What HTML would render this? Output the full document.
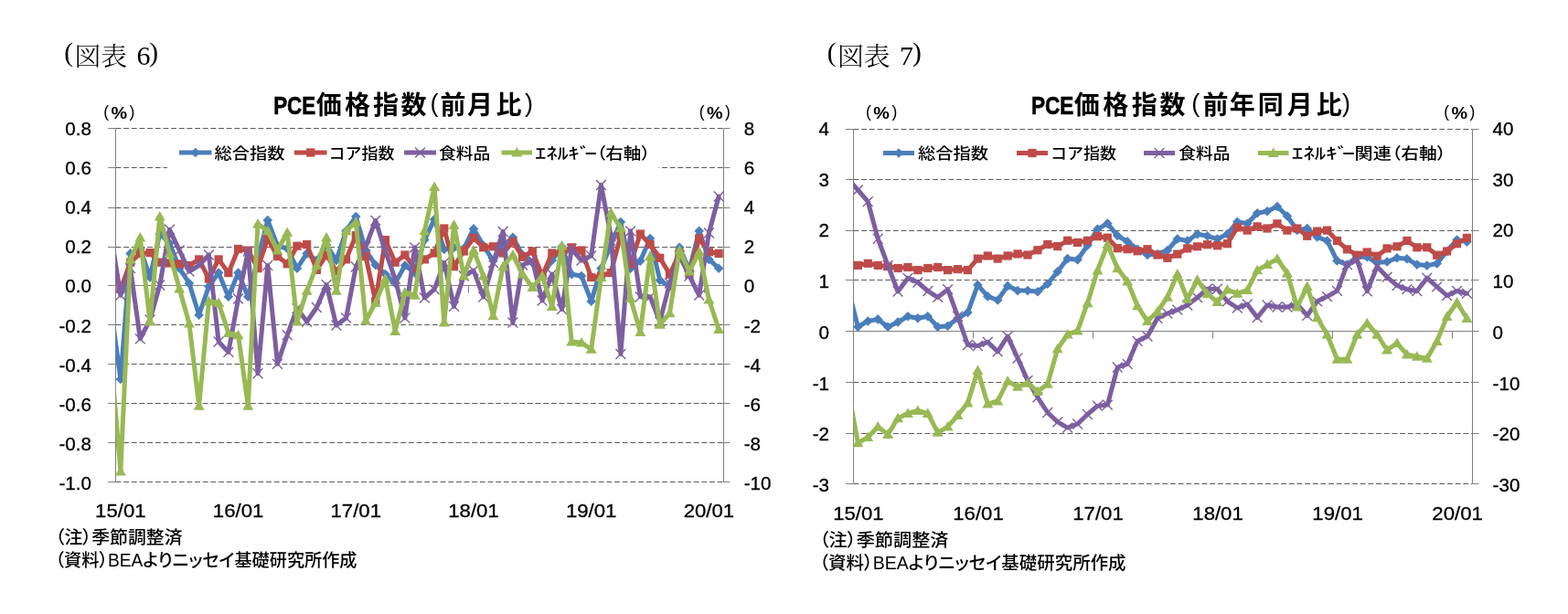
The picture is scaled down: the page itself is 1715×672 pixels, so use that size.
<!DOCTYPE html>
<html><head><meta charset="utf-8"><title>PCE価格指数</title>
<style>html,body{margin:0;padding:0;background:#fff;}svg{display:block;}</style>
</head><body>
<svg width="1715" height="672" viewBox="0 0 1715 672">
<rect width="1715" height="672" fill="#fff"/>
<text x="70.2" y="67.2" font-size="29.5" text-anchor="start" font-family="'Liberation Serif', 'Noto Serif CJK JP', serif" font-weight="normal" fill="#000">(</text>
<text x="81.5" y="72" font-size="28.5" text-anchor="start" font-family="'Noto Serif CJK JP', serif" font-weight="300" fill="#000" textLength="57.5" lengthAdjust="spacingAndGlyphs">図表</text>
<text x="149.5" y="71.4" font-size="30" text-anchor="start" font-family="'Liberation Serif', 'Noto Serif CJK JP', serif" font-weight="normal" fill="#000">6</text>
<text x="163.3" y="67.2" font-size="29.5" text-anchor="start" font-family="'Liberation Serif', 'Noto Serif CJK JP', serif" font-weight="normal" fill="#000">)</text>
<text x="904.8" y="67.2" font-size="29.5" text-anchor="start" font-family="'Liberation Serif', 'Noto Serif CJK JP', serif" font-weight="normal" fill="#000">(</text>
<text x="916.1" y="72" font-size="28.5" text-anchor="start" font-family="'Noto Serif CJK JP', serif" font-weight="300" fill="#000" textLength="57.5" lengthAdjust="spacingAndGlyphs">図表</text>
<text x="984.1" y="71.4" font-size="30" text-anchor="start" font-family="'Liberation Serif', 'Noto Serif CJK JP', serif" font-weight="normal" fill="#000">7</text>
<text x="997.9" y="67.2" font-size="29.5" text-anchor="start" font-family="'Liberation Serif', 'Noto Serif CJK JP', serif" font-weight="normal" fill="#000">)</text>
<clipPath id="c1"><rect x="126.5" y="132.5" width="665" height="403"/></clipPath>
<line x1="126.5" y1="140.5" x2="791.5" y2="140.5" stroke="#5a5a5a" stroke-width="1" stroke-dasharray="5.9 2.76"/>
<line x1="118" y1="140.5" x2="126.5" y2="140.5" stroke="#808080" stroke-width="1"/>
<line x1="791.5" y1="140.5" x2="798.5" y2="140.5" stroke="#808080" stroke-width="1"/>
<line x1="126.5" y1="183.5" x2="791.5" y2="183.5" stroke="#5a5a5a" stroke-width="1" stroke-dasharray="5.9 2.76"/>
<line x1="118" y1="183.5" x2="126.5" y2="183.5" stroke="#808080" stroke-width="1"/>
<line x1="791.5" y1="183.5" x2="798.5" y2="183.5" stroke="#808080" stroke-width="1"/>
<line x1="126.5" y1="227.5" x2="791.5" y2="227.5" stroke="#5a5a5a" stroke-width="1" stroke-dasharray="5.9 2.76"/>
<line x1="118" y1="227.5" x2="126.5" y2="227.5" stroke="#808080" stroke-width="1"/>
<line x1="791.5" y1="227.5" x2="798.5" y2="227.5" stroke="#808080" stroke-width="1"/>
<line x1="126.5" y1="270.5" x2="791.5" y2="270.5" stroke="#5a5a5a" stroke-width="1" stroke-dasharray="5.9 2.76"/>
<line x1="118" y1="270.5" x2="126.5" y2="270.5" stroke="#808080" stroke-width="1"/>
<line x1="791.5" y1="270.5" x2="798.5" y2="270.5" stroke="#808080" stroke-width="1"/>
<line x1="118" y1="312.5" x2="126.5" y2="312.5" stroke="#808080" stroke-width="1"/>
<line x1="791.5" y1="312.5" x2="798.5" y2="312.5" stroke="#808080" stroke-width="1"/>
<line x1="126.5" y1="355.5" x2="791.5" y2="355.5" stroke="#5a5a5a" stroke-width="1" stroke-dasharray="5.9 2.76"/>
<line x1="118" y1="355.5" x2="126.5" y2="355.5" stroke="#808080" stroke-width="1"/>
<line x1="791.5" y1="355.5" x2="798.5" y2="355.5" stroke="#808080" stroke-width="1"/>
<line x1="126.5" y1="398.5" x2="791.5" y2="398.5" stroke="#5a5a5a" stroke-width="1" stroke-dasharray="5.9 2.76"/>
<line x1="118" y1="398.5" x2="126.5" y2="398.5" stroke="#808080" stroke-width="1"/>
<line x1="791.5" y1="398.5" x2="798.5" y2="398.5" stroke="#808080" stroke-width="1"/>
<line x1="126.5" y1="441.5" x2="791.5" y2="441.5" stroke="#5a5a5a" stroke-width="1" stroke-dasharray="5.9 2.76"/>
<line x1="118" y1="441.5" x2="126.5" y2="441.5" stroke="#808080" stroke-width="1"/>
<line x1="791.5" y1="441.5" x2="798.5" y2="441.5" stroke="#808080" stroke-width="1"/>
<line x1="126.5" y1="484.5" x2="791.5" y2="484.5" stroke="#5a5a5a" stroke-width="1" stroke-dasharray="5.9 2.76"/>
<line x1="118" y1="484.5" x2="126.5" y2="484.5" stroke="#808080" stroke-width="1"/>
<line x1="791.5" y1="484.5" x2="798.5" y2="484.5" stroke="#808080" stroke-width="1"/>
<line x1="126.5" y1="527.5" x2="791.5" y2="527.5" stroke="#5a5a5a" stroke-width="1" stroke-dasharray="5.9 2.76"/>
<line x1="118" y1="527.5" x2="126.5" y2="527.5" stroke="#808080" stroke-width="1"/>
<line x1="791.5" y1="527.5" x2="798.5" y2="527.5" stroke="#808080" stroke-width="1"/>
<line x1="126.5" y1="312.5" x2="791.5" y2="312.5" stroke="#808080" stroke-width="1"/>
<line x1="126.5" y1="140.5" x2="126.5" y2="527.5" stroke="#808080" stroke-width="1"/>
<line x1="791.5" y1="140.5" x2="791.5" y2="527.5" stroke="#808080" stroke-width="1"/>
<line x1="255.5" y1="312.5" x2="255.5" y2="320.5" stroke="#808080" stroke-width="1"/>
<line x1="383.5" y1="312.5" x2="383.5" y2="320.5" stroke="#808080" stroke-width="1"/>
<line x1="512.5" y1="312.5" x2="512.5" y2="320.5" stroke="#808080" stroke-width="1"/>
<line x1="641.5" y1="312.5" x2="641.5" y2="320.5" stroke="#808080" stroke-width="1"/>
<line x1="770.5" y1="312.5" x2="770.5" y2="320.5" stroke="#808080" stroke-width="1"/>
<text x="100" y="147.9" font-size="20.6" text-anchor="end" font-family="'Liberation Sans', 'Noto Sans CJK JP', sans-serif" font-weight="normal" fill="#000" stroke="#000" stroke-width="0.3">0.8</text>
<text x="100" y="191.03" font-size="20.6" text-anchor="end" font-family="'Liberation Sans', 'Noto Sans CJK JP', sans-serif" font-weight="normal" fill="#000" stroke="#000" stroke-width="0.3">0.6</text>
<text x="100" y="234.17" font-size="20.6" text-anchor="end" font-family="'Liberation Sans', 'Noto Sans CJK JP', sans-serif" font-weight="normal" fill="#000" stroke="#000" stroke-width="0.3">0.4</text>
<text x="100" y="277.3" font-size="20.6" text-anchor="end" font-family="'Liberation Sans', 'Noto Sans CJK JP', sans-serif" font-weight="normal" fill="#000" stroke="#000" stroke-width="0.3">0.2</text>
<text x="100" y="320.43" font-size="20.6" text-anchor="end" font-family="'Liberation Sans', 'Noto Sans CJK JP', sans-serif" font-weight="normal" fill="#000" stroke="#000" stroke-width="0.3">0.0</text>
<text x="100" y="363.57" font-size="20.6" text-anchor="end" font-family="'Liberation Sans', 'Noto Sans CJK JP', sans-serif" font-weight="normal" fill="#000" stroke="#000" stroke-width="0.3">-0.2</text>
<text x="100" y="406.7" font-size="20.6" text-anchor="end" font-family="'Liberation Sans', 'Noto Sans CJK JP', sans-serif" font-weight="normal" fill="#000" stroke="#000" stroke-width="0.3">-0.4</text>
<text x="100" y="449.83" font-size="20.6" text-anchor="end" font-family="'Liberation Sans', 'Noto Sans CJK JP', sans-serif" font-weight="normal" fill="#000" stroke="#000" stroke-width="0.3">-0.6</text>
<text x="100" y="492.97" font-size="20.6" text-anchor="end" font-family="'Liberation Sans', 'Noto Sans CJK JP', sans-serif" font-weight="normal" fill="#000" stroke="#000" stroke-width="0.3">-0.8</text>
<text x="100" y="536.1" font-size="20.6" text-anchor="end" font-family="'Liberation Sans', 'Noto Sans CJK JP', sans-serif" font-weight="normal" fill="#000" stroke="#000" stroke-width="0.3">-1.0</text>
<text x="813.7" y="147.9" font-size="20.6" text-anchor="start" font-family="'Liberation Sans', 'Noto Sans CJK JP', sans-serif" font-weight="normal" fill="#000" stroke="#000" stroke-width="0.3">8</text>
<text x="813.7" y="191.03" font-size="20.6" text-anchor="start" font-family="'Liberation Sans', 'Noto Sans CJK JP', sans-serif" font-weight="normal" fill="#000" stroke="#000" stroke-width="0.3">6</text>
<text x="813.7" y="234.17" font-size="20.6" text-anchor="start" font-family="'Liberation Sans', 'Noto Sans CJK JP', sans-serif" font-weight="normal" fill="#000" stroke="#000" stroke-width="0.3">4</text>
<text x="813.7" y="277.3" font-size="20.6" text-anchor="start" font-family="'Liberation Sans', 'Noto Sans CJK JP', sans-serif" font-weight="normal" fill="#000" stroke="#000" stroke-width="0.3">2</text>
<text x="813.7" y="320.43" font-size="20.6" text-anchor="start" font-family="'Liberation Sans', 'Noto Sans CJK JP', sans-serif" font-weight="normal" fill="#000" stroke="#000" stroke-width="0.3">0</text>
<text x="813.7" y="363.57" font-size="20.6" text-anchor="start" font-family="'Liberation Sans', 'Noto Sans CJK JP', sans-serif" font-weight="normal" fill="#000" stroke="#000" stroke-width="0.3">-2</text>
<text x="813.7" y="406.7" font-size="20.6" text-anchor="start" font-family="'Liberation Sans', 'Noto Sans CJK JP', sans-serif" font-weight="normal" fill="#000" stroke="#000" stroke-width="0.3">-4</text>
<text x="813.7" y="449.83" font-size="20.6" text-anchor="start" font-family="'Liberation Sans', 'Noto Sans CJK JP', sans-serif" font-weight="normal" fill="#000" stroke="#000" stroke-width="0.3">-6</text>
<text x="813.7" y="492.97" font-size="20.6" text-anchor="start" font-family="'Liberation Sans', 'Noto Sans CJK JP', sans-serif" font-weight="normal" fill="#000" stroke="#000" stroke-width="0.3">-8</text>
<text x="813.7" y="536.1" font-size="20.6" text-anchor="start" font-family="'Liberation Sans', 'Noto Sans CJK JP', sans-serif" font-weight="normal" fill="#000" stroke="#000" stroke-width="0.3">-10</text>
<text x="131.86" y="566" font-size="20.8" text-anchor="middle" font-family="'Liberation Sans', 'Noto Sans CJK JP', sans-serif" font-weight="normal" fill="#000" textLength="55.5" lengthAdjust="spacingAndGlyphs" stroke="#000" stroke-width="0.3">15/01</text>
<text x="260.57" y="566" font-size="20.8" text-anchor="middle" font-family="'Liberation Sans', 'Noto Sans CJK JP', sans-serif" font-weight="normal" fill="#000" textLength="55.5" lengthAdjust="spacingAndGlyphs" stroke="#000" stroke-width="0.3">16/01</text>
<text x="389.28" y="566" font-size="20.8" text-anchor="middle" font-family="'Liberation Sans', 'Noto Sans CJK JP', sans-serif" font-weight="normal" fill="#000" textLength="55.5" lengthAdjust="spacingAndGlyphs" stroke="#000" stroke-width="0.3">17/01</text>
<text x="517.99" y="566" font-size="20.8" text-anchor="middle" font-family="'Liberation Sans', 'Noto Sans CJK JP', sans-serif" font-weight="normal" fill="#000" textLength="55.5" lengthAdjust="spacingAndGlyphs" stroke="#000" stroke-width="0.3">18/01</text>
<text x="646.7" y="566" font-size="20.8" text-anchor="middle" font-family="'Liberation Sans', 'Noto Sans CJK JP', sans-serif" font-weight="normal" fill="#000" textLength="55.5" lengthAdjust="spacingAndGlyphs" stroke="#000" stroke-width="0.3">19/01</text>
<text x="775.41" y="566" font-size="20.8" text-anchor="middle" font-family="'Liberation Sans', 'Noto Sans CJK JP', sans-serif" font-weight="normal" fill="#000" textLength="55.5" lengthAdjust="spacingAndGlyphs" stroke="#000" stroke-width="0.3">20/01</text>
<g clip-path="url(#c1)">
<polyline points="121.14,335 131.86,415 142.59,277.4 153.31,272 164.04,303.6 174.77,256 185.49,266 196.22,293.7 206.94,310 217.67,344.8 228.4,313.4 239.12,298.6 249.85,324.8 260.57,298.6 271.3,324.8 282.02,283 292.75,241 303.48,269 314.2,272 324.93,293.7 335.65,277.4 346.38,285 357.1,268 367.83,285 378.56,252.8 389.28,237 400.01,274 410.73,290 421.46,300 432.19,310 442.91,290.5 453.64,298.6 464.36,262.6 475.09,240 485.81,273 496.54,271 507.27,272 517.99,250.4 528.72,268.75 539.44,285.4 550.17,268.75 560.9,259.8 571.62,279 582.35,287.5 593.07,302 603.8,285 614.52,270 625.25,300.3 635.98,302 646.7,329.7 657.43,293.7 668.15,268 678.88,243 689.6,293.7 700.33,285.6 711.06,261 721.78,306.8 732.51,313.4 743.23,270.8 753.96,295.4 764.69,252.8 775.41,283.9 786.14,293.7" fill="none" stroke="#4a7ebb" stroke-width="5" stroke-linejoin="round" stroke-linecap="round"/>
<path d="M131.86 409.7L137.16 415L131.86 420.3L126.56 415Z" fill="#4a7ebb"/>
<path d="M142.59 272.1L147.89 277.4L142.59 282.7L137.29 277.4Z" fill="#4a7ebb"/>
<path d="M153.31 266.7L158.61 272L153.31 277.3L148.01 272Z" fill="#4a7ebb"/>
<path d="M164.04 298.3L169.34 303.6L164.04 308.9L158.74 303.6Z" fill="#4a7ebb"/>
<path d="M174.77 250.7L180.07 256L174.77 261.3L169.47 256Z" fill="#4a7ebb"/>
<path d="M185.49 260.7L190.79 266L185.49 271.3L180.19 266Z" fill="#4a7ebb"/>
<path d="M196.22 288.4L201.52 293.7L196.22 299L190.92 293.7Z" fill="#4a7ebb"/>
<path d="M206.94 304.7L212.24 310L206.94 315.3L201.64 310Z" fill="#4a7ebb"/>
<path d="M217.67 339.5L222.97 344.8L217.67 350.1L212.37 344.8Z" fill="#4a7ebb"/>
<path d="M228.4 308.1L233.7 313.4L228.4 318.7L223.1 313.4Z" fill="#4a7ebb"/>
<path d="M239.12 293.3L244.42 298.6L239.12 303.9L233.82 298.6Z" fill="#4a7ebb"/>
<path d="M249.85 319.5L255.15 324.8L249.85 330.1L244.55 324.8Z" fill="#4a7ebb"/>
<path d="M260.57 293.3L265.87 298.6L260.57 303.9L255.27 298.6Z" fill="#4a7ebb"/>
<path d="M271.3 319.5L276.6 324.8L271.3 330.1L266 324.8Z" fill="#4a7ebb"/>
<path d="M282.02 277.7L287.32 283L282.02 288.3L276.72 283Z" fill="#4a7ebb"/>
<path d="M292.75 235.7L298.05 241L292.75 246.3L287.45 241Z" fill="#4a7ebb"/>
<path d="M303.48 263.7L308.78 269L303.48 274.3L298.18 269Z" fill="#4a7ebb"/>
<path d="M314.2 266.7L319.5 272L314.2 277.3L308.9 272Z" fill="#4a7ebb"/>
<path d="M324.93 288.4L330.23 293.7L324.93 299L319.63 293.7Z" fill="#4a7ebb"/>
<path d="M335.65 272.1L340.95 277.4L335.65 282.7L330.35 277.4Z" fill="#4a7ebb"/>
<path d="M346.38 279.7L351.68 285L346.38 290.3L341.08 285Z" fill="#4a7ebb"/>
<path d="M357.1 262.7L362.4 268L357.1 273.3L351.8 268Z" fill="#4a7ebb"/>
<path d="M367.83 279.7L373.13 285L367.83 290.3L362.53 285Z" fill="#4a7ebb"/>
<path d="M378.56 247.5L383.86 252.8L378.56 258.1L373.26 252.8Z" fill="#4a7ebb"/>
<path d="M389.28 231.7L394.58 237L389.28 242.3L383.98 237Z" fill="#4a7ebb"/>
<path d="M400.01 268.7L405.31 274L400.01 279.3L394.71 274Z" fill="#4a7ebb"/>
<path d="M410.73 284.7L416.03 290L410.73 295.3L405.43 290Z" fill="#4a7ebb"/>
<path d="M421.46 294.7L426.76 300L421.46 305.3L416.16 300Z" fill="#4a7ebb"/>
<path d="M432.19 304.7L437.49 310L432.19 315.3L426.89 310Z" fill="#4a7ebb"/>
<path d="M442.91 285.2L448.21 290.5L442.91 295.8L437.61 290.5Z" fill="#4a7ebb"/>
<path d="M453.64 293.3L458.94 298.6L453.64 303.9L448.34 298.6Z" fill="#4a7ebb"/>
<path d="M464.36 257.3L469.66 262.6L464.36 267.9L459.06 262.6Z" fill="#4a7ebb"/>
<path d="M475.09 234.7L480.39 240L475.09 245.3L469.79 240Z" fill="#4a7ebb"/>
<path d="M485.81 267.7L491.11 273L485.81 278.3L480.51 273Z" fill="#4a7ebb"/>
<path d="M496.54 265.7L501.84 271L496.54 276.3L491.24 271Z" fill="#4a7ebb"/>
<path d="M507.27 266.7L512.57 272L507.27 277.3L501.97 272Z" fill="#4a7ebb"/>
<path d="M517.99 245.1L523.29 250.4L517.99 255.7L512.69 250.4Z" fill="#4a7ebb"/>
<path d="M528.72 263.45L534.02 268.75L528.72 274.05L523.42 268.75Z" fill="#4a7ebb"/>
<path d="M539.44 280.1L544.74 285.4L539.44 290.7L534.14 285.4Z" fill="#4a7ebb"/>
<path d="M550.17 263.45L555.47 268.75L550.17 274.05L544.87 268.75Z" fill="#4a7ebb"/>
<path d="M560.9 254.5L566.2 259.8L560.9 265.1L555.6 259.8Z" fill="#4a7ebb"/>
<path d="M571.62 273.7L576.92 279L571.62 284.3L566.32 279Z" fill="#4a7ebb"/>
<path d="M582.35 282.2L587.65 287.5L582.35 292.8L577.05 287.5Z" fill="#4a7ebb"/>
<path d="M593.07 296.7L598.37 302L593.07 307.3L587.77 302Z" fill="#4a7ebb"/>
<path d="M603.8 279.7L609.1 285L603.8 290.3L598.5 285Z" fill="#4a7ebb"/>
<path d="M614.52 264.7L619.82 270L614.52 275.3L609.22 270Z" fill="#4a7ebb"/>
<path d="M625.25 295L630.55 300.3L625.25 305.6L619.95 300.3Z" fill="#4a7ebb"/>
<path d="M635.98 296.7L641.28 302L635.98 307.3L630.68 302Z" fill="#4a7ebb"/>
<path d="M646.7 324.4L652 329.7L646.7 335L641.4 329.7Z" fill="#4a7ebb"/>
<path d="M657.43 288.4L662.73 293.7L657.43 299L652.13 293.7Z" fill="#4a7ebb"/>
<path d="M668.15 262.7L673.45 268L668.15 273.3L662.85 268Z" fill="#4a7ebb"/>
<path d="M678.88 237.7L684.18 243L678.88 248.3L673.58 243Z" fill="#4a7ebb"/>
<path d="M689.6 288.4L694.9 293.7L689.6 299L684.3 293.7Z" fill="#4a7ebb"/>
<path d="M700.33 280.3L705.63 285.6L700.33 290.9L695.03 285.6Z" fill="#4a7ebb"/>
<path d="M711.06 255.7L716.36 261L711.06 266.3L705.76 261Z" fill="#4a7ebb"/>
<path d="M721.78 301.5L727.08 306.8L721.78 312.1L716.48 306.8Z" fill="#4a7ebb"/>
<path d="M732.51 308.1L737.81 313.4L732.51 318.7L727.21 313.4Z" fill="#4a7ebb"/>
<path d="M743.23 265.5L748.53 270.8L743.23 276.1L737.93 270.8Z" fill="#4a7ebb"/>
<path d="M753.96 290.1L759.26 295.4L753.96 300.7L748.66 295.4Z" fill="#4a7ebb"/>
<path d="M764.69 247.5L769.99 252.8L764.69 258.1L759.39 252.8Z" fill="#4a7ebb"/>
<path d="M775.41 278.6L780.71 283.9L775.41 289.2L770.11 283.9Z" fill="#4a7ebb"/>
<path d="M786.14 288.4L791.44 293.7L786.14 299L780.84 293.7Z" fill="#4a7ebb"/>
</g>
<g clip-path="url(#c1)">
<polyline points="121.14,290 131.86,316.6 142.59,287.2 153.31,277.4 164.04,276.6 174.77,287.2 185.49,288 196.22,288.8 206.94,290.5 217.67,283.9 228.4,305.2 239.12,283.9 249.85,298.6 260.57,272.5 271.3,274.1 282.02,293.7 292.75,261 303.48,280.6 314.2,288.8 324.93,269.2 335.65,267.6 346.38,295.4 357.1,279 367.83,297 378.56,283.9 389.28,257.7 400.01,280.6 410.73,329.7 421.46,262.6 432.19,287.2 442.91,279 453.64,293.7 464.36,283.9 475.09,277 485.81,250 496.54,291.7 507.27,275 517.99,260.4 528.72,270.8 539.44,269.8 550.17,277 560.9,264.6 571.62,281.25 582.35,275 593.07,302 603.8,277 614.52,277 625.25,270.8 635.98,274 646.7,303.6 657.43,302 668.15,298.6 678.88,257.7 689.6,288.8 700.33,256 711.06,267.6 721.78,282.3 732.51,300.3 743.23,277 753.96,300.3 764.69,261 775.41,275.7 786.14,277.4" fill="none" stroke="#be4b48" stroke-width="5" stroke-linejoin="round" stroke-linecap="round"/>
<rect x="127.26" y="312" width="9.2" height="9.2" fill="#be4b48"/>
<rect x="137.99" y="282.6" width="9.2" height="9.2" fill="#be4b48"/>
<rect x="148.71" y="272.8" width="9.2" height="9.2" fill="#be4b48"/>
<rect x="159.44" y="272" width="9.2" height="9.2" fill="#be4b48"/>
<rect x="170.17" y="282.6" width="9.2" height="9.2" fill="#be4b48"/>
<rect x="180.89" y="283.4" width="9.2" height="9.2" fill="#be4b48"/>
<rect x="191.62" y="284.2" width="9.2" height="9.2" fill="#be4b48"/>
<rect x="202.34" y="285.9" width="9.2" height="9.2" fill="#be4b48"/>
<rect x="213.07" y="279.3" width="9.2" height="9.2" fill="#be4b48"/>
<rect x="223.8" y="300.6" width="9.2" height="9.2" fill="#be4b48"/>
<rect x="234.52" y="279.3" width="9.2" height="9.2" fill="#be4b48"/>
<rect x="245.25" y="294" width="9.2" height="9.2" fill="#be4b48"/>
<rect x="255.97" y="267.9" width="9.2" height="9.2" fill="#be4b48"/>
<rect x="266.7" y="269.5" width="9.2" height="9.2" fill="#be4b48"/>
<rect x="277.42" y="289.1" width="9.2" height="9.2" fill="#be4b48"/>
<rect x="288.15" y="256.4" width="9.2" height="9.2" fill="#be4b48"/>
<rect x="298.88" y="276" width="9.2" height="9.2" fill="#be4b48"/>
<rect x="309.6" y="284.2" width="9.2" height="9.2" fill="#be4b48"/>
<rect x="320.33" y="264.6" width="9.2" height="9.2" fill="#be4b48"/>
<rect x="331.05" y="263" width="9.2" height="9.2" fill="#be4b48"/>
<rect x="341.78" y="290.8" width="9.2" height="9.2" fill="#be4b48"/>
<rect x="352.5" y="274.4" width="9.2" height="9.2" fill="#be4b48"/>
<rect x="363.23" y="292.4" width="9.2" height="9.2" fill="#be4b48"/>
<rect x="373.96" y="279.3" width="9.2" height="9.2" fill="#be4b48"/>
<rect x="384.68" y="253.1" width="9.2" height="9.2" fill="#be4b48"/>
<rect x="395.41" y="276" width="9.2" height="9.2" fill="#be4b48"/>
<rect x="406.13" y="325.1" width="9.2" height="9.2" fill="#be4b48"/>
<rect x="416.86" y="258" width="9.2" height="9.2" fill="#be4b48"/>
<rect x="427.59" y="282.6" width="9.2" height="9.2" fill="#be4b48"/>
<rect x="438.31" y="274.4" width="9.2" height="9.2" fill="#be4b48"/>
<rect x="449.04" y="289.1" width="9.2" height="9.2" fill="#be4b48"/>
<rect x="459.76" y="279.3" width="9.2" height="9.2" fill="#be4b48"/>
<rect x="470.49" y="272.4" width="9.2" height="9.2" fill="#be4b48"/>
<rect x="481.21" y="245.4" width="9.2" height="9.2" fill="#be4b48"/>
<rect x="491.94" y="287.1" width="9.2" height="9.2" fill="#be4b48"/>
<rect x="502.67" y="270.4" width="9.2" height="9.2" fill="#be4b48"/>
<rect x="513.39" y="255.8" width="9.2" height="9.2" fill="#be4b48"/>
<rect x="524.12" y="266.2" width="9.2" height="9.2" fill="#be4b48"/>
<rect x="534.84" y="265.2" width="9.2" height="9.2" fill="#be4b48"/>
<rect x="545.57" y="272.4" width="9.2" height="9.2" fill="#be4b48"/>
<rect x="556.3" y="260" width="9.2" height="9.2" fill="#be4b48"/>
<rect x="567.02" y="276.65" width="9.2" height="9.2" fill="#be4b48"/>
<rect x="577.75" y="270.4" width="9.2" height="9.2" fill="#be4b48"/>
<rect x="588.47" y="297.4" width="9.2" height="9.2" fill="#be4b48"/>
<rect x="599.2" y="272.4" width="9.2" height="9.2" fill="#be4b48"/>
<rect x="609.92" y="272.4" width="9.2" height="9.2" fill="#be4b48"/>
<rect x="620.65" y="266.2" width="9.2" height="9.2" fill="#be4b48"/>
<rect x="631.38" y="269.4" width="9.2" height="9.2" fill="#be4b48"/>
<rect x="642.1" y="299" width="9.2" height="9.2" fill="#be4b48"/>
<rect x="652.83" y="297.4" width="9.2" height="9.2" fill="#be4b48"/>
<rect x="663.55" y="294" width="9.2" height="9.2" fill="#be4b48"/>
<rect x="674.28" y="253.1" width="9.2" height="9.2" fill="#be4b48"/>
<rect x="685" y="284.2" width="9.2" height="9.2" fill="#be4b48"/>
<rect x="695.73" y="251.4" width="9.2" height="9.2" fill="#be4b48"/>
<rect x="706.46" y="263" width="9.2" height="9.2" fill="#be4b48"/>
<rect x="717.18" y="277.7" width="9.2" height="9.2" fill="#be4b48"/>
<rect x="727.91" y="295.7" width="9.2" height="9.2" fill="#be4b48"/>
<rect x="738.63" y="272.4" width="9.2" height="9.2" fill="#be4b48"/>
<rect x="749.36" y="295.7" width="9.2" height="9.2" fill="#be4b48"/>
<rect x="760.09" y="256.4" width="9.2" height="9.2" fill="#be4b48"/>
<rect x="770.81" y="271.1" width="9.2" height="9.2" fill="#be4b48"/>
<rect x="781.54" y="272.8" width="9.2" height="9.2" fill="#be4b48"/>
</g>
<g clip-path="url(#c1)">
<polyline points="121.14,255 131.86,323.2 142.59,293.7 153.31,370.8 164.04,350 174.77,312 185.49,251.2 196.22,274 206.94,297 217.67,290.5 228.4,279 239.12,374 249.85,385.4 260.57,327 271.3,275 282.02,408.75 292.75,290.5 303.48,398.3 314.2,366.7 324.93,337.5 335.65,352 346.38,336.5 357.1,311.7 367.83,356 378.56,348 389.28,292 400.01,270 410.73,241.4 421.46,275 432.19,305 442.91,348 453.64,270.8 464.36,326 475.09,316.7 485.81,287.5 496.54,335.4 507.27,302 517.99,296 528.72,325 539.44,287.5 550.17,253.5 560.9,353 571.62,290 582.35,285 593.07,329 603.8,300 614.52,338.5 625.25,272.5 635.98,285 646.7,280 657.43,202.5 668.15,258 678.88,387.5 689.6,252.8 700.33,324.8 711.06,324.8 721.78,352 732.51,310 743.23,280 753.96,302 764.69,323.2 775.41,255 786.14,215" fill="none" stroke="#7d5fa0" stroke-width="5" stroke-linejoin="round" stroke-linecap="round"/>
<path d="M126.46 317.8L137.26 328.6M126.46 328.6L137.26 317.8" stroke="#7d5fa0" stroke-width="1.4" fill="none"/>
<path d="M137.19 288.3L147.99 299.1M137.19 299.1L147.99 288.3" stroke="#7d5fa0" stroke-width="1.4" fill="none"/>
<path d="M147.91 365.4L158.71 376.2M147.91 376.2L158.71 365.4" stroke="#7d5fa0" stroke-width="1.4" fill="none"/>
<path d="M158.64 344.6L169.44 355.4M158.64 355.4L169.44 344.6" stroke="#7d5fa0" stroke-width="1.4" fill="none"/>
<path d="M169.37 306.6L180.17 317.4M169.37 317.4L180.17 306.6" stroke="#7d5fa0" stroke-width="1.4" fill="none"/>
<path d="M180.09 245.8L190.89 256.6M180.09 256.6L190.89 245.8" stroke="#7d5fa0" stroke-width="1.4" fill="none"/>
<path d="M190.82 268.6L201.62 279.4M190.82 279.4L201.62 268.6" stroke="#7d5fa0" stroke-width="1.4" fill="none"/>
<path d="M201.54 291.6L212.34 302.4M201.54 302.4L212.34 291.6" stroke="#7d5fa0" stroke-width="1.4" fill="none"/>
<path d="M212.27 285.1L223.07 295.9M212.27 295.9L223.07 285.1" stroke="#7d5fa0" stroke-width="1.4" fill="none"/>
<path d="M223 273.6L233.8 284.4M223 284.4L233.8 273.6" stroke="#7d5fa0" stroke-width="1.4" fill="none"/>
<path d="M233.72 368.6L244.52 379.4M233.72 379.4L244.52 368.6" stroke="#7d5fa0" stroke-width="1.4" fill="none"/>
<path d="M244.45 380L255.25 390.8M244.45 390.8L255.25 380" stroke="#7d5fa0" stroke-width="1.4" fill="none"/>
<path d="M255.17 321.6L265.97 332.4M255.17 332.4L265.97 321.6" stroke="#7d5fa0" stroke-width="1.4" fill="none"/>
<path d="M265.9 269.6L276.7 280.4M265.9 280.4L276.7 269.6" stroke="#7d5fa0" stroke-width="1.4" fill="none"/>
<path d="M276.62 403.35L287.42 414.15M276.62 414.15L287.42 403.35" stroke="#7d5fa0" stroke-width="1.4" fill="none"/>
<path d="M287.35 285.1L298.15 295.9M287.35 295.9L298.15 285.1" stroke="#7d5fa0" stroke-width="1.4" fill="none"/>
<path d="M298.08 392.9L308.88 403.7M298.08 403.7L308.88 392.9" stroke="#7d5fa0" stroke-width="1.4" fill="none"/>
<path d="M308.8 361.3L319.6 372.1M308.8 372.1L319.6 361.3" stroke="#7d5fa0" stroke-width="1.4" fill="none"/>
<path d="M319.53 332.1L330.33 342.9M319.53 342.9L330.33 332.1" stroke="#7d5fa0" stroke-width="1.4" fill="none"/>
<path d="M330.25 346.6L341.05 357.4M330.25 357.4L341.05 346.6" stroke="#7d5fa0" stroke-width="1.4" fill="none"/>
<path d="M340.98 331.1L351.78 341.9M340.98 341.9L351.78 331.1" stroke="#7d5fa0" stroke-width="1.4" fill="none"/>
<path d="M351.7 306.3L362.5 317.1M351.7 317.1L362.5 306.3" stroke="#7d5fa0" stroke-width="1.4" fill="none"/>
<path d="M362.43 350.6L373.23 361.4M362.43 361.4L373.23 350.6" stroke="#7d5fa0" stroke-width="1.4" fill="none"/>
<path d="M373.16 342.6L383.96 353.4M373.16 353.4L383.96 342.6" stroke="#7d5fa0" stroke-width="1.4" fill="none"/>
<path d="M383.88 286.6L394.68 297.4M383.88 297.4L394.68 286.6" stroke="#7d5fa0" stroke-width="1.4" fill="none"/>
<path d="M394.61 264.6L405.41 275.4M394.61 275.4L405.41 264.6" stroke="#7d5fa0" stroke-width="1.4" fill="none"/>
<path d="M405.33 236L416.13 246.8M405.33 246.8L416.13 236" stroke="#7d5fa0" stroke-width="1.4" fill="none"/>
<path d="M416.06 269.6L426.86 280.4M416.06 280.4L426.86 269.6" stroke="#7d5fa0" stroke-width="1.4" fill="none"/>
<path d="M426.79 299.6L437.59 310.4M426.79 310.4L437.59 299.6" stroke="#7d5fa0" stroke-width="1.4" fill="none"/>
<path d="M437.51 342.6L448.31 353.4M437.51 353.4L448.31 342.6" stroke="#7d5fa0" stroke-width="1.4" fill="none"/>
<path d="M448.24 265.4L459.04 276.2M448.24 276.2L459.04 265.4" stroke="#7d5fa0" stroke-width="1.4" fill="none"/>
<path d="M458.96 320.6L469.76 331.4M458.96 331.4L469.76 320.6" stroke="#7d5fa0" stroke-width="1.4" fill="none"/>
<path d="M469.69 311.3L480.49 322.1M469.69 322.1L480.49 311.3" stroke="#7d5fa0" stroke-width="1.4" fill="none"/>
<path d="M480.41 282.1L491.21 292.9M480.41 292.9L491.21 282.1" stroke="#7d5fa0" stroke-width="1.4" fill="none"/>
<path d="M491.14 330L501.94 340.8M491.14 340.8L501.94 330" stroke="#7d5fa0" stroke-width="1.4" fill="none"/>
<path d="M501.87 296.6L512.67 307.4M501.87 307.4L512.67 296.6" stroke="#7d5fa0" stroke-width="1.4" fill="none"/>
<path d="M512.59 290.6L523.39 301.4M512.59 301.4L523.39 290.6" stroke="#7d5fa0" stroke-width="1.4" fill="none"/>
<path d="M523.32 319.6L534.12 330.4M523.32 330.4L534.12 319.6" stroke="#7d5fa0" stroke-width="1.4" fill="none"/>
<path d="M534.04 282.1L544.84 292.9M534.04 292.9L544.84 282.1" stroke="#7d5fa0" stroke-width="1.4" fill="none"/>
<path d="M544.77 248.1L555.57 258.9M544.77 258.9L555.57 248.1" stroke="#7d5fa0" stroke-width="1.4" fill="none"/>
<path d="M555.5 347.6L566.3 358.4M555.5 358.4L566.3 347.6" stroke="#7d5fa0" stroke-width="1.4" fill="none"/>
<path d="M566.22 284.6L577.02 295.4M566.22 295.4L577.02 284.6" stroke="#7d5fa0" stroke-width="1.4" fill="none"/>
<path d="M576.95 279.6L587.75 290.4M576.95 290.4L587.75 279.6" stroke="#7d5fa0" stroke-width="1.4" fill="none"/>
<path d="M587.67 323.6L598.47 334.4M587.67 334.4L598.47 323.6" stroke="#7d5fa0" stroke-width="1.4" fill="none"/>
<path d="M598.4 294.6L609.2 305.4M598.4 305.4L609.2 294.6" stroke="#7d5fa0" stroke-width="1.4" fill="none"/>
<path d="M609.12 333.1L619.92 343.9M609.12 343.9L619.92 333.1" stroke="#7d5fa0" stroke-width="1.4" fill="none"/>
<path d="M619.85 267.1L630.65 277.9M619.85 277.9L630.65 267.1" stroke="#7d5fa0" stroke-width="1.4" fill="none"/>
<path d="M630.58 279.6L641.38 290.4M630.58 290.4L641.38 279.6" stroke="#7d5fa0" stroke-width="1.4" fill="none"/>
<path d="M641.3 274.6L652.1 285.4M641.3 285.4L652.1 274.6" stroke="#7d5fa0" stroke-width="1.4" fill="none"/>
<path d="M652.03 197.1L662.83 207.9M652.03 207.9L662.83 197.1" stroke="#7d5fa0" stroke-width="1.4" fill="none"/>
<path d="M662.75 252.6L673.55 263.4M662.75 263.4L673.55 252.6" stroke="#7d5fa0" stroke-width="1.4" fill="none"/>
<path d="M673.48 382.1L684.28 392.9M673.48 392.9L684.28 382.1" stroke="#7d5fa0" stroke-width="1.4" fill="none"/>
<path d="M684.2 247.4L695 258.2M684.2 258.2L695 247.4" stroke="#7d5fa0" stroke-width="1.4" fill="none"/>
<path d="M694.93 319.4L705.73 330.2M694.93 330.2L705.73 319.4" stroke="#7d5fa0" stroke-width="1.4" fill="none"/>
<path d="M705.66 319.4L716.46 330.2M705.66 330.2L716.46 319.4" stroke="#7d5fa0" stroke-width="1.4" fill="none"/>
<path d="M716.38 346.6L727.18 357.4M716.38 357.4L727.18 346.6" stroke="#7d5fa0" stroke-width="1.4" fill="none"/>
<path d="M727.11 304.6L737.91 315.4M727.11 315.4L737.91 304.6" stroke="#7d5fa0" stroke-width="1.4" fill="none"/>
<path d="M737.83 274.6L748.63 285.4M737.83 285.4L748.63 274.6" stroke="#7d5fa0" stroke-width="1.4" fill="none"/>
<path d="M748.56 296.6L759.36 307.4M748.56 307.4L759.36 296.6" stroke="#7d5fa0" stroke-width="1.4" fill="none"/>
<path d="M759.29 317.8L770.09 328.6M759.29 328.6L770.09 317.8" stroke="#7d5fa0" stroke-width="1.4" fill="none"/>
<path d="M770.01 249.6L780.81 260.4M770.01 260.4L780.81 249.6" stroke="#7d5fa0" stroke-width="1.4" fill="none"/>
<path d="M780.74 209.6L791.54 220.4M780.74 220.4L791.54 209.6" stroke="#7d5fa0" stroke-width="1.4" fill="none"/>
</g>
<g clip-path="url(#c1)">
<polyline points="121.14,388 131.86,516 142.59,284 153.31,260 164.04,352 174.77,237 185.49,277.4 196.22,316 206.94,354 217.67,444.2 228.4,329.7 239.12,331.4 249.85,364.6 260.57,366.7 271.3,444.2 282.02,245 292.75,252.8 303.48,274 314.2,254.5 324.93,352 335.65,318.3 346.38,290.5 357.1,260 367.83,318.3 378.56,252.8 389.28,243 400.01,351 410.73,331.4 421.46,305.2 432.19,362.5 442.91,320 453.64,323.2 464.36,252.8 475.09,204.6 485.81,353 496.54,246.25 507.27,302 517.99,274 528.72,302 539.44,345.8 550.17,291.7 560.9,279 571.62,300 582.35,314.6 593.07,302 603.8,335.4 614.52,269 625.25,374 635.98,375 646.7,382.3 657.43,303.6 668.15,233 678.88,249.5 689.6,326.5 700.33,363.5 711.06,280.6 721.78,355.2 732.51,342.7 743.23,274 753.96,297 764.69,275.7 775.41,328 786.14,360.4" fill="none" stroke="#98b954" stroke-width="5" stroke-linejoin="round" stroke-linecap="round"/>
<path d="M131.86 510L137.86 520.5L125.86 520.5Z" fill="#98b954"/>
<path d="M142.59 278L148.59 288.5L136.59 288.5Z" fill="#98b954"/>
<path d="M153.31 254L159.31 264.5L147.31 264.5Z" fill="#98b954"/>
<path d="M164.04 346L170.04 356.5L158.04 356.5Z" fill="#98b954"/>
<path d="M174.77 231L180.77 241.5L168.77 241.5Z" fill="#98b954"/>
<path d="M185.49 271.4L191.49 281.9L179.49 281.9Z" fill="#98b954"/>
<path d="M196.22 310L202.22 320.5L190.22 320.5Z" fill="#98b954"/>
<path d="M206.94 348L212.94 358.5L200.94 358.5Z" fill="#98b954"/>
<path d="M217.67 438.2L223.67 448.7L211.67 448.7Z" fill="#98b954"/>
<path d="M228.4 323.7L234.4 334.2L222.4 334.2Z" fill="#98b954"/>
<path d="M239.12 325.4L245.12 335.9L233.12 335.9Z" fill="#98b954"/>
<path d="M249.85 358.6L255.85 369.1L243.85 369.1Z" fill="#98b954"/>
<path d="M260.57 360.7L266.57 371.2L254.57 371.2Z" fill="#98b954"/>
<path d="M271.3 438.2L277.3 448.7L265.3 448.7Z" fill="#98b954"/>
<path d="M282.02 239L288.02 249.5L276.02 249.5Z" fill="#98b954"/>
<path d="M292.75 246.8L298.75 257.3L286.75 257.3Z" fill="#98b954"/>
<path d="M303.48 268L309.48 278.5L297.48 278.5Z" fill="#98b954"/>
<path d="M314.2 248.5L320.2 259L308.2 259Z" fill="#98b954"/>
<path d="M324.93 346L330.93 356.5L318.93 356.5Z" fill="#98b954"/>
<path d="M335.65 312.3L341.65 322.8L329.65 322.8Z" fill="#98b954"/>
<path d="M346.38 284.5L352.38 295L340.38 295Z" fill="#98b954"/>
<path d="M357.1 254L363.1 264.5L351.1 264.5Z" fill="#98b954"/>
<path d="M367.83 312.3L373.83 322.8L361.83 322.8Z" fill="#98b954"/>
<path d="M378.56 246.8L384.56 257.3L372.56 257.3Z" fill="#98b954"/>
<path d="M389.28 237L395.28 247.5L383.28 247.5Z" fill="#98b954"/>
<path d="M400.01 345L406.01 355.5L394.01 355.5Z" fill="#98b954"/>
<path d="M410.73 325.4L416.73 335.9L404.73 335.9Z" fill="#98b954"/>
<path d="M421.46 299.2L427.46 309.7L415.46 309.7Z" fill="#98b954"/>
<path d="M432.19 356.5L438.19 367L426.19 367Z" fill="#98b954"/>
<path d="M442.91 314L448.91 324.5L436.91 324.5Z" fill="#98b954"/>
<path d="M453.64 317.2L459.64 327.7L447.64 327.7Z" fill="#98b954"/>
<path d="M464.36 246.8L470.36 257.3L458.36 257.3Z" fill="#98b954"/>
<path d="M475.09 198.6L481.09 209.1L469.09 209.1Z" fill="#98b954"/>
<path d="M485.81 347L491.81 357.5L479.81 357.5Z" fill="#98b954"/>
<path d="M496.54 240.25L502.54 250.75L490.54 250.75Z" fill="#98b954"/>
<path d="M507.27 296L513.27 306.5L501.27 306.5Z" fill="#98b954"/>
<path d="M517.99 268L523.99 278.5L511.99 278.5Z" fill="#98b954"/>
<path d="M528.72 296L534.72 306.5L522.72 306.5Z" fill="#98b954"/>
<path d="M539.44 339.8L545.44 350.3L533.44 350.3Z" fill="#98b954"/>
<path d="M550.17 285.7L556.17 296.2L544.17 296.2Z" fill="#98b954"/>
<path d="M560.9 273L566.9 283.5L554.9 283.5Z" fill="#98b954"/>
<path d="M571.62 294L577.62 304.5L565.62 304.5Z" fill="#98b954"/>
<path d="M582.35 308.6L588.35 319.1L576.35 319.1Z" fill="#98b954"/>
<path d="M593.07 296L599.07 306.5L587.07 306.5Z" fill="#98b954"/>
<path d="M603.8 329.4L609.8 339.9L597.8 339.9Z" fill="#98b954"/>
<path d="M614.52 263L620.52 273.5L608.52 273.5Z" fill="#98b954"/>
<path d="M625.25 368L631.25 378.5L619.25 378.5Z" fill="#98b954"/>
<path d="M635.98 369L641.98 379.5L629.98 379.5Z" fill="#98b954"/>
<path d="M646.7 376.3L652.7 386.8L640.7 386.8Z" fill="#98b954"/>
<path d="M657.43 297.6L663.43 308.1L651.43 308.1Z" fill="#98b954"/>
<path d="M668.15 227L674.15 237.5L662.15 237.5Z" fill="#98b954"/>
<path d="M678.88 243.5L684.88 254L672.88 254Z" fill="#98b954"/>
<path d="M689.6 320.5L695.6 331L683.6 331Z" fill="#98b954"/>
<path d="M700.33 357.5L706.33 368L694.33 368Z" fill="#98b954"/>
<path d="M711.06 274.6L717.06 285.1L705.06 285.1Z" fill="#98b954"/>
<path d="M721.78 349.2L727.78 359.7L715.78 359.7Z" fill="#98b954"/>
<path d="M732.51 336.7L738.51 347.2L726.51 347.2Z" fill="#98b954"/>
<path d="M743.23 268L749.23 278.5L737.23 278.5Z" fill="#98b954"/>
<path d="M753.96 291L759.96 301.5L747.96 301.5Z" fill="#98b954"/>
<path d="M764.69 269.7L770.69 280.2L758.69 280.2Z" fill="#98b954"/>
<path d="M775.41 322L781.41 332.5L769.41 332.5Z" fill="#98b954"/>
<path d="M786.14 354.4L792.14 364.9L780.14 364.9Z" fill="#98b954"/>
</g>
<rect x="183" y="150" width="537.5" height="40" fill="#fff"/>
<line x1="196" y1="167" x2="231.5" y2="167" stroke="#4a7ebb" stroke-width="5.2" stroke-linecap="butt"/>
<path d="M213.75 161.7L219.05 167L213.75 172.3L208.45 167Z" fill="#4a7ebb"/>
<text x="234.4" y="173.8" font-size="17.5" text-anchor="start" font-family="'Liberation Sans', 'Noto Sans CJK JP', sans-serif" font-weight="500" fill="#000" textLength="77" lengthAdjust="spacingAndGlyphs">総合指数</text>
<line x1="322" y1="167" x2="357.5" y2="167" stroke="#be4b48" stroke-width="5.2" stroke-linecap="butt"/>
<rect x="335.15" y="162.4" width="9.2" height="9.2" fill="#be4b48"/>
<text x="359.4" y="173.8" font-size="17.5" text-anchor="start" font-family="'Liberation Sans', 'Noto Sans CJK JP', sans-serif" font-weight="500" fill="#000" textLength="72" lengthAdjust="spacingAndGlyphs">コア指数</text>
<line x1="442" y1="167" x2="477" y2="167" stroke="#7d5fa0" stroke-width="5.2" stroke-linecap="butt"/>
<path d="M454.1 161.6L464.9 172.4M454.1 172.4L464.9 161.6" stroke="#7d5fa0" stroke-width="1.4" fill="none"/>
<text x="480" y="173.8" font-size="17.5" text-anchor="start" font-family="'Liberation Sans', 'Noto Sans CJK JP', sans-serif" font-weight="500" fill="#000" textLength="56.3" lengthAdjust="spacingAndGlyphs">食料品</text>
<line x1="548.5" y1="167" x2="582" y2="167" stroke="#98b954" stroke-width="5.2" stroke-linecap="butt"/>
<path d="M565.25 161L571.25 171.5L559.25 171.5Z" fill="#98b954"/>
<text x="585.3" y="173.8" font-size="17.5" text-anchor="start" font-family="'Liberation Sans', 'Noto Sans CJK JP', sans-serif" font-weight="500" fill="#000" textLength="60.5" lengthAdjust="spacingAndGlyphs">ｴﾈﾙｷﾞ</text>
<text x="639.2" y="173.8" font-size="17.5" text-anchor="start" font-family="'Liberation Sans', 'Noto Sans CJK JP', sans-serif" font-weight="500" fill="#000" textLength="14" lengthAdjust="spacingAndGlyphs">ｰ</text>
<text x="652.5" y="173.8" font-size="17.5" text-anchor="start" font-family="'Liberation Sans', 'Noto Sans CJK JP', sans-serif" font-weight="500" fill="#000" textLength="58.7" lengthAdjust="spacingAndGlyphs" style="font-feature-settings:'palt'">（右軸）</text>
<text x="299.2" y="124.9" font-size="28" text-anchor="start" font-family="'Liberation Sans', 'Noto Sans CJK JP', sans-serif" font-weight="bold" fill="#000" textLength="46" lengthAdjust="spacingAndGlyphs" stroke="#000" stroke-width="0.6">PCE</text>
<text x="359.7" y="125" font-size="28" text-anchor="middle" font-family="'Noto Sans CJK JP', sans-serif" font-weight="bold" fill="#000">価</text>
<text x="390.9" y="125" font-size="28" text-anchor="middle" font-family="'Noto Sans CJK JP', sans-serif" font-weight="bold" fill="#000">格</text>
<text x="422" y="125" font-size="28" text-anchor="middle" font-family="'Noto Sans CJK JP', sans-serif" font-weight="bold" fill="#000">指</text>
<text x="452.5" y="125" font-size="28" text-anchor="middle" font-family="'Noto Sans CJK JP', sans-serif" font-weight="bold" fill="#000">数</text>
<text x="475" y="122.3" font-size="27" text-anchor="middle" font-family="'Liberation Sans', 'Noto Sans CJK JP', sans-serif" font-weight="normal" fill="#000">(</text>
<text x="495.5" y="125" font-size="28" text-anchor="middle" font-family="'Noto Sans CJK JP', sans-serif" font-weight="bold" fill="#000">前</text>
<text x="525" y="125" font-size="28" text-anchor="middle" font-family="'Noto Sans CJK JP', sans-serif" font-weight="bold" fill="#000">月</text>
<text x="556.5" y="125" font-size="28" text-anchor="middle" font-family="'Noto Sans CJK JP', sans-serif" font-weight="bold" fill="#000">比</text>
<text x="578.5" y="122.3" font-size="27" text-anchor="middle" font-family="'Liberation Sans', 'Noto Sans CJK JP', sans-serif" font-weight="normal" fill="#000">)</text>
<text x="113.2" y="127.6" font-size="17.5" text-anchor="start" font-family="'Liberation Sans', 'Noto Sans CJK JP', sans-serif" font-weight="normal" fill="#000">(</text>
<text x="121.4" y="129.6" font-size="18.2" text-anchor="start" font-family="'Liberation Sans', 'Noto Sans CJK JP', sans-serif" font-weight="bold" fill="#000" textLength="17.6" lengthAdjust="spacingAndGlyphs">%</text>
<text x="141.6" y="127.6" font-size="17.5" text-anchor="start" font-family="'Liberation Sans', 'Noto Sans CJK JP', sans-serif" font-weight="normal" fill="#000">)</text>
<text x="764.7" y="127.6" font-size="17.5" text-anchor="start" font-family="'Liberation Sans', 'Noto Sans CJK JP', sans-serif" font-weight="normal" fill="#000">(</text>
<text x="772.9" y="129.6" font-size="18.2" text-anchor="start" font-family="'Liberation Sans', 'Noto Sans CJK JP', sans-serif" font-weight="bold" fill="#000" textLength="17.6" lengthAdjust="spacingAndGlyphs">%</text>
<text x="793.1" y="127.6" font-size="17.5" text-anchor="start" font-family="'Liberation Sans', 'Noto Sans CJK JP', sans-serif" font-weight="normal" fill="#000">)</text>
<clipPath id="c2"><rect x="933.5" y="133.5" width="677" height="404"/></clipPath>
<line x1="933.5" y1="141.5" x2="1610.5" y2="141.5" stroke="#5a5a5a" stroke-width="1" stroke-dasharray="5.9 2.76"/>
<line x1="925" y1="141.5" x2="933.5" y2="141.5" stroke="#808080" stroke-width="1"/>
<line x1="1610.5" y1="141.5" x2="1617.5" y2="141.5" stroke="#808080" stroke-width="1"/>
<line x1="933.5" y1="196.5" x2="1610.5" y2="196.5" stroke="#5a5a5a" stroke-width="1" stroke-dasharray="5.9 2.76"/>
<line x1="925" y1="196.5" x2="933.5" y2="196.5" stroke="#808080" stroke-width="1"/>
<line x1="1610.5" y1="196.5" x2="1617.5" y2="196.5" stroke="#808080" stroke-width="1"/>
<line x1="933.5" y1="252.5" x2="1610.5" y2="252.5" stroke="#5a5a5a" stroke-width="1" stroke-dasharray="5.9 2.76"/>
<line x1="925" y1="252.5" x2="933.5" y2="252.5" stroke="#808080" stroke-width="1"/>
<line x1="1610.5" y1="252.5" x2="1617.5" y2="252.5" stroke="#808080" stroke-width="1"/>
<line x1="933.5" y1="306.5" x2="1610.5" y2="306.5" stroke="#5a5a5a" stroke-width="1" stroke-dasharray="5.9 2.76"/>
<line x1="925" y1="306.5" x2="933.5" y2="306.5" stroke="#808080" stroke-width="1"/>
<line x1="1610.5" y1="306.5" x2="1617.5" y2="306.5" stroke="#808080" stroke-width="1"/>
<line x1="925" y1="362.5" x2="933.5" y2="362.5" stroke="#808080" stroke-width="1"/>
<line x1="1610.5" y1="362.5" x2="1617.5" y2="362.5" stroke="#808080" stroke-width="1"/>
<line x1="933.5" y1="418.5" x2="1610.5" y2="418.5" stroke="#5a5a5a" stroke-width="1" stroke-dasharray="5.9 2.76"/>
<line x1="925" y1="418.5" x2="933.5" y2="418.5" stroke="#808080" stroke-width="1"/>
<line x1="1610.5" y1="418.5" x2="1617.5" y2="418.5" stroke="#808080" stroke-width="1"/>
<line x1="933.5" y1="474.5" x2="1610.5" y2="474.5" stroke="#5a5a5a" stroke-width="1" stroke-dasharray="5.9 2.76"/>
<line x1="925" y1="474.5" x2="933.5" y2="474.5" stroke="#808080" stroke-width="1"/>
<line x1="1610.5" y1="474.5" x2="1617.5" y2="474.5" stroke="#808080" stroke-width="1"/>
<line x1="933.5" y1="529.5" x2="1610.5" y2="529.5" stroke="#5a5a5a" stroke-width="1" stroke-dasharray="5.9 2.76"/>
<line x1="925" y1="529.5" x2="933.5" y2="529.5" stroke="#808080" stroke-width="1"/>
<line x1="1610.5" y1="529.5" x2="1617.5" y2="529.5" stroke="#808080" stroke-width="1"/>
<line x1="933.5" y1="362.5" x2="1610.5" y2="362.5" stroke="#808080" stroke-width="1"/>
<line x1="933.5" y1="141.5" x2="933.5" y2="529.5" stroke="#808080" stroke-width="1"/>
<line x1="1610.5" y1="141.5" x2="1610.5" y2="529.5" stroke="#808080" stroke-width="1"/>
<line x1="1064.5" y1="362.5" x2="1064.5" y2="370.5" stroke="#808080" stroke-width="1"/>
<line x1="1195.5" y1="362.5" x2="1195.5" y2="370.5" stroke="#808080" stroke-width="1"/>
<line x1="1326.5" y1="362.5" x2="1326.5" y2="370.5" stroke="#808080" stroke-width="1"/>
<line x1="1457.5" y1="362.5" x2="1457.5" y2="370.5" stroke="#808080" stroke-width="1"/>
<line x1="1588.5" y1="362.5" x2="1588.5" y2="370.5" stroke="#808080" stroke-width="1"/>
<text x="907" y="147.9" font-size="20.6" text-anchor="end" font-family="'Liberation Sans', 'Noto Sans CJK JP', sans-serif" font-weight="normal" fill="#000" stroke="#000" stroke-width="0.3">4</text>
<text x="907" y="203.64" font-size="20.6" text-anchor="end" font-family="'Liberation Sans', 'Noto Sans CJK JP', sans-serif" font-weight="normal" fill="#000" stroke="#000" stroke-width="0.3">3</text>
<text x="907" y="259.39" font-size="20.6" text-anchor="end" font-family="'Liberation Sans', 'Noto Sans CJK JP', sans-serif" font-weight="normal" fill="#000" stroke="#000" stroke-width="0.3">2</text>
<text x="907" y="315.13" font-size="20.6" text-anchor="end" font-family="'Liberation Sans', 'Noto Sans CJK JP', sans-serif" font-weight="normal" fill="#000" stroke="#000" stroke-width="0.3">1</text>
<text x="907" y="370.87" font-size="20.6" text-anchor="end" font-family="'Liberation Sans', 'Noto Sans CJK JP', sans-serif" font-weight="normal" fill="#000" stroke="#000" stroke-width="0.3">0</text>
<text x="907" y="426.61" font-size="20.6" text-anchor="end" font-family="'Liberation Sans', 'Noto Sans CJK JP', sans-serif" font-weight="normal" fill="#000" stroke="#000" stroke-width="0.3">-1</text>
<text x="907" y="482.36" font-size="20.6" text-anchor="end" font-family="'Liberation Sans', 'Noto Sans CJK JP', sans-serif" font-weight="normal" fill="#000" stroke="#000" stroke-width="0.3">-2</text>
<text x="907" y="538.1" font-size="20.6" text-anchor="end" font-family="'Liberation Sans', 'Noto Sans CJK JP', sans-serif" font-weight="normal" fill="#000" stroke="#000" stroke-width="0.3">-3</text>
<text x="1632.6" y="147.9" font-size="20.6" text-anchor="start" font-family="'Liberation Sans', 'Noto Sans CJK JP', sans-serif" font-weight="normal" fill="#000" stroke="#000" stroke-width="0.3">40</text>
<text x="1632.6" y="203.64" font-size="20.6" text-anchor="start" font-family="'Liberation Sans', 'Noto Sans CJK JP', sans-serif" font-weight="normal" fill="#000" stroke="#000" stroke-width="0.3">30</text>
<text x="1632.6" y="259.39" font-size="20.6" text-anchor="start" font-family="'Liberation Sans', 'Noto Sans CJK JP', sans-serif" font-weight="normal" fill="#000" stroke="#000" stroke-width="0.3">20</text>
<text x="1632.6" y="315.13" font-size="20.6" text-anchor="start" font-family="'Liberation Sans', 'Noto Sans CJK JP', sans-serif" font-weight="normal" fill="#000" stroke="#000" stroke-width="0.3">10</text>
<text x="1632.6" y="370.87" font-size="20.6" text-anchor="start" font-family="'Liberation Sans', 'Noto Sans CJK JP', sans-serif" font-weight="normal" fill="#000" stroke="#000" stroke-width="0.3">0</text>
<text x="1632.6" y="426.61" font-size="20.6" text-anchor="start" font-family="'Liberation Sans', 'Noto Sans CJK JP', sans-serif" font-weight="normal" fill="#000" stroke="#000" stroke-width="0.3">-10</text>
<text x="1632.6" y="482.36" font-size="20.6" text-anchor="start" font-family="'Liberation Sans', 'Noto Sans CJK JP', sans-serif" font-weight="normal" fill="#000" stroke="#000" stroke-width="0.3">-20</text>
<text x="1632.6" y="538.1" font-size="20.6" text-anchor="start" font-family="'Liberation Sans', 'Noto Sans CJK JP', sans-serif" font-weight="normal" fill="#000" stroke="#000" stroke-width="0.3">-30</text>
<text x="938.96" y="568.5" font-size="20.8" text-anchor="middle" font-family="'Liberation Sans', 'Noto Sans CJK JP', sans-serif" font-weight="normal" fill="#000" textLength="55.5" lengthAdjust="spacingAndGlyphs" stroke="#000" stroke-width="0.3">15/01</text>
<text x="1069.99" y="568.5" font-size="20.8" text-anchor="middle" font-family="'Liberation Sans', 'Noto Sans CJK JP', sans-serif" font-weight="normal" fill="#000" textLength="55.5" lengthAdjust="spacingAndGlyphs" stroke="#000" stroke-width="0.3">16/01</text>
<text x="1201.02" y="568.5" font-size="20.8" text-anchor="middle" font-family="'Liberation Sans', 'Noto Sans CJK JP', sans-serif" font-weight="normal" fill="#000" textLength="55.5" lengthAdjust="spacingAndGlyphs" stroke="#000" stroke-width="0.3">17/01</text>
<text x="1332.06" y="568.5" font-size="20.8" text-anchor="middle" font-family="'Liberation Sans', 'Noto Sans CJK JP', sans-serif" font-weight="normal" fill="#000" textLength="55.5" lengthAdjust="spacingAndGlyphs" stroke="#000" stroke-width="0.3">18/01</text>
<text x="1463.09" y="568.5" font-size="20.8" text-anchor="middle" font-family="'Liberation Sans', 'Noto Sans CJK JP', sans-serif" font-weight="normal" fill="#000" textLength="55.5" lengthAdjust="spacingAndGlyphs" stroke="#000" stroke-width="0.3">19/01</text>
<text x="1594.12" y="568.5" font-size="20.8" text-anchor="middle" font-family="'Liberation Sans', 'Noto Sans CJK JP', sans-serif" font-weight="normal" fill="#000" textLength="55.5" lengthAdjust="spacingAndGlyphs" stroke="#000" stroke-width="0.3">20/01</text>
<g clip-path="url(#c2)">
<polyline points="927.44,315 938.36,357.7 949.28,351.5 960.2,349.4 971.12,357.7 982.04,352.5 992.96,346.25 1003.88,348.3 1014.8,346.25 1025.71,357.7 1036.63,356.7 1047.55,348.3 1058.47,342 1069.39,311.9 1080.31,324.4 1091.23,328.5 1102.15,312.9 1113.07,318.1 1123.99,318.1 1134.91,319.2 1145.83,310.8 1156.75,297.3 1167.67,283.1 1178.59,284.2 1189.5,268.5 1200.42,250.8 1211.34,244.6 1222.26,258 1233.18,264.4 1244.1,272.7 1255.02,279 1265.94,278 1276.86,274 1287.78,261.5 1298.7,263.5 1309.62,256.25 1320.54,258.3 1331.46,261.5 1342.38,256.25 1353.3,242.7 1364.21,244.8 1375.13,233.3 1386.05,231.25 1396.97,226 1407.89,236.5 1418.81,252 1429.73,250 1440.65,259.4 1451.57,263.5 1462.49,285.4 1473.41,289.6 1484.33,281.25 1495.25,281.25 1506.17,287.5 1517.09,286.5 1528,282.3 1538.92,283.3 1549.84,289.6 1560.76,290.6 1571.68,288.5 1582.6,275 1593.52,262.5 1604.44,264.6" fill="none" stroke="#4a7ebb" stroke-width="5" stroke-linejoin="round" stroke-linecap="round"/>
<path d="M938.36 352.4L943.66 357.7L938.36 363L933.06 357.7Z" fill="#4a7ebb"/>
<path d="M949.28 346.2L954.58 351.5L949.28 356.8L943.98 351.5Z" fill="#4a7ebb"/>
<path d="M960.2 344.1L965.5 349.4L960.2 354.7L954.9 349.4Z" fill="#4a7ebb"/>
<path d="M971.12 352.4L976.42 357.7L971.12 363L965.82 357.7Z" fill="#4a7ebb"/>
<path d="M982.04 347.2L987.34 352.5L982.04 357.8L976.74 352.5Z" fill="#4a7ebb"/>
<path d="M992.96 340.95L998.26 346.25L992.96 351.55L987.66 346.25Z" fill="#4a7ebb"/>
<path d="M1003.88 343L1009.18 348.3L1003.88 353.6L998.58 348.3Z" fill="#4a7ebb"/>
<path d="M1014.8 340.95L1020.1 346.25L1014.8 351.55L1009.5 346.25Z" fill="#4a7ebb"/>
<path d="M1025.71 352.4L1031.01 357.7L1025.71 363L1020.41 357.7Z" fill="#4a7ebb"/>
<path d="M1036.63 351.4L1041.93 356.7L1036.63 362L1031.33 356.7Z" fill="#4a7ebb"/>
<path d="M1047.55 343L1052.85 348.3L1047.55 353.6L1042.25 348.3Z" fill="#4a7ebb"/>
<path d="M1058.47 336.7L1063.77 342L1058.47 347.3L1053.17 342Z" fill="#4a7ebb"/>
<path d="M1069.39 306.6L1074.69 311.9L1069.39 317.2L1064.09 311.9Z" fill="#4a7ebb"/>
<path d="M1080.31 319.1L1085.61 324.4L1080.31 329.7L1075.01 324.4Z" fill="#4a7ebb"/>
<path d="M1091.23 323.2L1096.53 328.5L1091.23 333.8L1085.93 328.5Z" fill="#4a7ebb"/>
<path d="M1102.15 307.6L1107.45 312.9L1102.15 318.2L1096.85 312.9Z" fill="#4a7ebb"/>
<path d="M1113.07 312.8L1118.37 318.1L1113.07 323.4L1107.77 318.1Z" fill="#4a7ebb"/>
<path d="M1123.99 312.8L1129.29 318.1L1123.99 323.4L1118.69 318.1Z" fill="#4a7ebb"/>
<path d="M1134.91 313.9L1140.21 319.2L1134.91 324.5L1129.61 319.2Z" fill="#4a7ebb"/>
<path d="M1145.83 305.5L1151.13 310.8L1145.83 316.1L1140.53 310.8Z" fill="#4a7ebb"/>
<path d="M1156.75 292L1162.05 297.3L1156.75 302.6L1151.45 297.3Z" fill="#4a7ebb"/>
<path d="M1167.67 277.8L1172.97 283.1L1167.67 288.4L1162.37 283.1Z" fill="#4a7ebb"/>
<path d="M1178.59 278.9L1183.89 284.2L1178.59 289.5L1173.29 284.2Z" fill="#4a7ebb"/>
<path d="M1189.5 263.2L1194.8 268.5L1189.5 273.8L1184.2 268.5Z" fill="#4a7ebb"/>
<path d="M1200.42 245.5L1205.72 250.8L1200.42 256.1L1195.12 250.8Z" fill="#4a7ebb"/>
<path d="M1211.34 239.3L1216.64 244.6L1211.34 249.9L1206.04 244.6Z" fill="#4a7ebb"/>
<path d="M1222.26 252.7L1227.56 258L1222.26 263.3L1216.96 258Z" fill="#4a7ebb"/>
<path d="M1233.18 259.1L1238.48 264.4L1233.18 269.7L1227.88 264.4Z" fill="#4a7ebb"/>
<path d="M1244.1 267.4L1249.4 272.7L1244.1 278L1238.8 272.7Z" fill="#4a7ebb"/>
<path d="M1255.02 273.7L1260.32 279L1255.02 284.3L1249.72 279Z" fill="#4a7ebb"/>
<path d="M1265.94 272.7L1271.24 278L1265.94 283.3L1260.64 278Z" fill="#4a7ebb"/>
<path d="M1276.86 268.7L1282.16 274L1276.86 279.3L1271.56 274Z" fill="#4a7ebb"/>
<path d="M1287.78 256.2L1293.08 261.5L1287.78 266.8L1282.48 261.5Z" fill="#4a7ebb"/>
<path d="M1298.7 258.2L1304 263.5L1298.7 268.8L1293.4 263.5Z" fill="#4a7ebb"/>
<path d="M1309.62 250.95L1314.92 256.25L1309.62 261.55L1304.32 256.25Z" fill="#4a7ebb"/>
<path d="M1320.54 253L1325.84 258.3L1320.54 263.6L1315.24 258.3Z" fill="#4a7ebb"/>
<path d="M1331.46 256.2L1336.76 261.5L1331.46 266.8L1326.16 261.5Z" fill="#4a7ebb"/>
<path d="M1342.38 250.95L1347.68 256.25L1342.38 261.55L1337.08 256.25Z" fill="#4a7ebb"/>
<path d="M1353.3 237.4L1358.6 242.7L1353.3 248L1348 242.7Z" fill="#4a7ebb"/>
<path d="M1364.21 239.5L1369.51 244.8L1364.21 250.1L1358.91 244.8Z" fill="#4a7ebb"/>
<path d="M1375.13 228L1380.43 233.3L1375.13 238.6L1369.83 233.3Z" fill="#4a7ebb"/>
<path d="M1386.05 225.95L1391.35 231.25L1386.05 236.55L1380.75 231.25Z" fill="#4a7ebb"/>
<path d="M1396.97 220.7L1402.27 226L1396.97 231.3L1391.67 226Z" fill="#4a7ebb"/>
<path d="M1407.89 231.2L1413.19 236.5L1407.89 241.8L1402.59 236.5Z" fill="#4a7ebb"/>
<path d="M1418.81 246.7L1424.11 252L1418.81 257.3L1413.51 252Z" fill="#4a7ebb"/>
<path d="M1429.73 244.7L1435.03 250L1429.73 255.3L1424.43 250Z" fill="#4a7ebb"/>
<path d="M1440.65 254.1L1445.95 259.4L1440.65 264.7L1435.35 259.4Z" fill="#4a7ebb"/>
<path d="M1451.57 258.2L1456.87 263.5L1451.57 268.8L1446.27 263.5Z" fill="#4a7ebb"/>
<path d="M1462.49 280.1L1467.79 285.4L1462.49 290.7L1457.19 285.4Z" fill="#4a7ebb"/>
<path d="M1473.41 284.3L1478.71 289.6L1473.41 294.9L1468.11 289.6Z" fill="#4a7ebb"/>
<path d="M1484.33 275.95L1489.63 281.25L1484.33 286.55L1479.03 281.25Z" fill="#4a7ebb"/>
<path d="M1495.25 275.95L1500.55 281.25L1495.25 286.55L1489.95 281.25Z" fill="#4a7ebb"/>
<path d="M1506.17 282.2L1511.47 287.5L1506.17 292.8L1500.87 287.5Z" fill="#4a7ebb"/>
<path d="M1517.09 281.2L1522.39 286.5L1517.09 291.8L1511.79 286.5Z" fill="#4a7ebb"/>
<path d="M1528 277L1533.3 282.3L1528 287.6L1522.7 282.3Z" fill="#4a7ebb"/>
<path d="M1538.92 278L1544.22 283.3L1538.92 288.6L1533.62 283.3Z" fill="#4a7ebb"/>
<path d="M1549.84 284.3L1555.14 289.6L1549.84 294.9L1544.54 289.6Z" fill="#4a7ebb"/>
<path d="M1560.76 285.3L1566.06 290.6L1560.76 295.9L1555.46 290.6Z" fill="#4a7ebb"/>
<path d="M1571.68 283.2L1576.98 288.5L1571.68 293.8L1566.38 288.5Z" fill="#4a7ebb"/>
<path d="M1582.6 269.7L1587.9 275L1582.6 280.3L1577.3 275Z" fill="#4a7ebb"/>
<path d="M1593.52 257.2L1598.82 262.5L1593.52 267.8L1588.22 262.5Z" fill="#4a7ebb"/>
<path d="M1604.44 259.3L1609.74 264.6L1604.44 269.9L1599.14 264.6Z" fill="#4a7ebb"/>
</g>
<g clip-path="url(#c2)">
<polyline points="927.44,290 938.36,290.4 949.28,288.3 960.2,290.4 971.12,291.5 982.04,293.5 992.96,292.5 1003.88,295.6 1014.8,293.5 1025.71,292.5 1036.63,295.6 1047.55,294.6 1058.47,295.6 1069.39,283.1 1080.31,280 1091.23,283.1 1102.15,280 1113.07,277.9 1123.99,279 1134.91,273.75 1145.83,267.5 1156.75,269.6 1167.67,263.3 1178.59,265.4 1189.5,263.3 1200.42,258.75 1211.34,260.2 1222.26,271.7 1233.18,272.7 1244.1,274.8 1255.02,272.7 1265.94,279 1276.86,282.3 1287.78,278.1 1298.7,271.9 1309.62,269.8 1320.54,267.7 1331.46,268.75 1342.38,266.7 1353.3,249 1364.21,252.1 1375.13,247.9 1386.05,250 1396.97,244.8 1407.89,252.1 1418.81,250 1429.73,258.3 1440.65,253.1 1451.57,252.1 1462.49,263.5 1473.41,272.9 1484.33,279.2 1495.25,276 1506.17,280.2 1517.09,271.9 1528,269.8 1538.92,263.5 1549.84,270.8 1560.76,270.8 1571.68,279.2 1582.6,275 1593.52,266.7 1604.44,260.4" fill="none" stroke="#be4b48" stroke-width="5" stroke-linejoin="round" stroke-linecap="round"/>
<rect x="933.76" y="285.8" width="9.2" height="9.2" fill="#be4b48"/>
<rect x="944.68" y="283.7" width="9.2" height="9.2" fill="#be4b48"/>
<rect x="955.6" y="285.8" width="9.2" height="9.2" fill="#be4b48"/>
<rect x="966.52" y="286.9" width="9.2" height="9.2" fill="#be4b48"/>
<rect x="977.44" y="288.9" width="9.2" height="9.2" fill="#be4b48"/>
<rect x="988.36" y="287.9" width="9.2" height="9.2" fill="#be4b48"/>
<rect x="999.28" y="291" width="9.2" height="9.2" fill="#be4b48"/>
<rect x="1010.2" y="288.9" width="9.2" height="9.2" fill="#be4b48"/>
<rect x="1021.11" y="287.9" width="9.2" height="9.2" fill="#be4b48"/>
<rect x="1032.03" y="291" width="9.2" height="9.2" fill="#be4b48"/>
<rect x="1042.95" y="290" width="9.2" height="9.2" fill="#be4b48"/>
<rect x="1053.87" y="291" width="9.2" height="9.2" fill="#be4b48"/>
<rect x="1064.79" y="278.5" width="9.2" height="9.2" fill="#be4b48"/>
<rect x="1075.71" y="275.4" width="9.2" height="9.2" fill="#be4b48"/>
<rect x="1086.63" y="278.5" width="9.2" height="9.2" fill="#be4b48"/>
<rect x="1097.55" y="275.4" width="9.2" height="9.2" fill="#be4b48"/>
<rect x="1108.47" y="273.3" width="9.2" height="9.2" fill="#be4b48"/>
<rect x="1119.39" y="274.4" width="9.2" height="9.2" fill="#be4b48"/>
<rect x="1130.31" y="269.15" width="9.2" height="9.2" fill="#be4b48"/>
<rect x="1141.23" y="262.9" width="9.2" height="9.2" fill="#be4b48"/>
<rect x="1152.15" y="265" width="9.2" height="9.2" fill="#be4b48"/>
<rect x="1163.07" y="258.7" width="9.2" height="9.2" fill="#be4b48"/>
<rect x="1173.99" y="260.8" width="9.2" height="9.2" fill="#be4b48"/>
<rect x="1184.9" y="258.7" width="9.2" height="9.2" fill="#be4b48"/>
<rect x="1195.82" y="254.15" width="9.2" height="9.2" fill="#be4b48"/>
<rect x="1206.74" y="255.6" width="9.2" height="9.2" fill="#be4b48"/>
<rect x="1217.66" y="267.1" width="9.2" height="9.2" fill="#be4b48"/>
<rect x="1228.58" y="268.1" width="9.2" height="9.2" fill="#be4b48"/>
<rect x="1239.5" y="270.2" width="9.2" height="9.2" fill="#be4b48"/>
<rect x="1250.42" y="268.1" width="9.2" height="9.2" fill="#be4b48"/>
<rect x="1261.34" y="274.4" width="9.2" height="9.2" fill="#be4b48"/>
<rect x="1272.26" y="277.7" width="9.2" height="9.2" fill="#be4b48"/>
<rect x="1283.18" y="273.5" width="9.2" height="9.2" fill="#be4b48"/>
<rect x="1294.1" y="267.3" width="9.2" height="9.2" fill="#be4b48"/>
<rect x="1305.02" y="265.2" width="9.2" height="9.2" fill="#be4b48"/>
<rect x="1315.94" y="263.1" width="9.2" height="9.2" fill="#be4b48"/>
<rect x="1326.86" y="264.15" width="9.2" height="9.2" fill="#be4b48"/>
<rect x="1337.78" y="262.1" width="9.2" height="9.2" fill="#be4b48"/>
<rect x="1348.7" y="244.4" width="9.2" height="9.2" fill="#be4b48"/>
<rect x="1359.61" y="247.5" width="9.2" height="9.2" fill="#be4b48"/>
<rect x="1370.53" y="243.3" width="9.2" height="9.2" fill="#be4b48"/>
<rect x="1381.45" y="245.4" width="9.2" height="9.2" fill="#be4b48"/>
<rect x="1392.37" y="240.2" width="9.2" height="9.2" fill="#be4b48"/>
<rect x="1403.29" y="247.5" width="9.2" height="9.2" fill="#be4b48"/>
<rect x="1414.21" y="245.4" width="9.2" height="9.2" fill="#be4b48"/>
<rect x="1425.13" y="253.7" width="9.2" height="9.2" fill="#be4b48"/>
<rect x="1436.05" y="248.5" width="9.2" height="9.2" fill="#be4b48"/>
<rect x="1446.97" y="247.5" width="9.2" height="9.2" fill="#be4b48"/>
<rect x="1457.89" y="258.9" width="9.2" height="9.2" fill="#be4b48"/>
<rect x="1468.81" y="268.3" width="9.2" height="9.2" fill="#be4b48"/>
<rect x="1479.73" y="274.6" width="9.2" height="9.2" fill="#be4b48"/>
<rect x="1490.65" y="271.4" width="9.2" height="9.2" fill="#be4b48"/>
<rect x="1501.57" y="275.6" width="9.2" height="9.2" fill="#be4b48"/>
<rect x="1512.49" y="267.3" width="9.2" height="9.2" fill="#be4b48"/>
<rect x="1523.4" y="265.2" width="9.2" height="9.2" fill="#be4b48"/>
<rect x="1534.32" y="258.9" width="9.2" height="9.2" fill="#be4b48"/>
<rect x="1545.24" y="266.2" width="9.2" height="9.2" fill="#be4b48"/>
<rect x="1556.16" y="266.2" width="9.2" height="9.2" fill="#be4b48"/>
<rect x="1567.08" y="274.6" width="9.2" height="9.2" fill="#be4b48"/>
<rect x="1578" y="270.4" width="9.2" height="9.2" fill="#be4b48"/>
<rect x="1588.92" y="262.1" width="9.2" height="9.2" fill="#be4b48"/>
<rect x="1599.84" y="255.8" width="9.2" height="9.2" fill="#be4b48"/>
</g>
<g clip-path="url(#c2)">
<polyline points="927.44,195.8 938.36,208 949.28,220.6 960.2,261.25 971.12,290.4 982.04,319 992.96,304.4 1003.88,309 1014.8,318.5 1025.71,325.4 1036.63,316.7 1047.55,346.25 1058.47,377.5 1069.39,378.5 1080.31,374.4 1091.23,384.8 1102.15,368.1 1113.07,392 1123.99,416.5 1134.91,434.8 1145.83,451.5 1156.75,461.9 1167.67,468.1 1178.59,464 1189.5,453.5 1200.42,444.2 1211.34,443.1 1222.26,402 1233.18,398.3 1244.1,373.3 1255.02,368.1 1265.94,348.3 1276.86,343 1287.78,339.2 1298.7,334 1309.62,325.6 1320.54,316.25 1331.46,316.25 1342.38,329.8 1353.3,337 1364.21,333 1375.13,347.5 1386.05,334 1396.97,336 1407.89,336 1418.81,333 1429.73,345.4 1440.65,329.8 1451.57,324.6 1462.49,318.3 1473.41,289.6 1484.33,284.4 1495.25,318.75 1506.17,291.7 1517.09,303.1 1528,312.5 1538.92,316.7 1549.84,318.5 1560.76,304.2 1571.68,313.8 1582.6,323.5 1593.52,318.5 1604.44,321.2" fill="none" stroke="#7d5fa0" stroke-width="5" stroke-linejoin="round" stroke-linecap="round"/>
<path d="M932.96 202.6L943.76 213.4M932.96 213.4L943.76 202.6" stroke="#7d5fa0" stroke-width="1.4" fill="none"/>
<path d="M943.88 215.2L954.68 226M943.88 226L954.68 215.2" stroke="#7d5fa0" stroke-width="1.4" fill="none"/>
<path d="M954.8 255.85L965.6 266.65M954.8 266.65L965.6 255.85" stroke="#7d5fa0" stroke-width="1.4" fill="none"/>
<path d="M965.72 285L976.52 295.8M965.72 295.8L976.52 285" stroke="#7d5fa0" stroke-width="1.4" fill="none"/>
<path d="M976.64 313.6L987.44 324.4M976.64 324.4L987.44 313.6" stroke="#7d5fa0" stroke-width="1.4" fill="none"/>
<path d="M987.56 299L998.36 309.8M987.56 309.8L998.36 299" stroke="#7d5fa0" stroke-width="1.4" fill="none"/>
<path d="M998.48 303.6L1009.28 314.4M998.48 314.4L1009.28 303.6" stroke="#7d5fa0" stroke-width="1.4" fill="none"/>
<path d="M1009.4 313.1L1020.2 323.9M1009.4 323.9L1020.2 313.1" stroke="#7d5fa0" stroke-width="1.4" fill="none"/>
<path d="M1020.31 320L1031.11 330.8M1020.31 330.8L1031.11 320" stroke="#7d5fa0" stroke-width="1.4" fill="none"/>
<path d="M1031.23 311.3L1042.03 322.1M1031.23 322.1L1042.03 311.3" stroke="#7d5fa0" stroke-width="1.4" fill="none"/>
<path d="M1042.15 340.85L1052.95 351.65M1042.15 351.65L1052.95 340.85" stroke="#7d5fa0" stroke-width="1.4" fill="none"/>
<path d="M1053.07 372.1L1063.87 382.9M1053.07 382.9L1063.87 372.1" stroke="#7d5fa0" stroke-width="1.4" fill="none"/>
<path d="M1063.99 373.1L1074.79 383.9M1063.99 383.9L1074.79 373.1" stroke="#7d5fa0" stroke-width="1.4" fill="none"/>
<path d="M1074.91 369L1085.71 379.8M1074.91 379.8L1085.71 369" stroke="#7d5fa0" stroke-width="1.4" fill="none"/>
<path d="M1085.83 379.4L1096.63 390.2M1085.83 390.2L1096.63 379.4" stroke="#7d5fa0" stroke-width="1.4" fill="none"/>
<path d="M1096.75 362.7L1107.55 373.5M1096.75 373.5L1107.55 362.7" stroke="#7d5fa0" stroke-width="1.4" fill="none"/>
<path d="M1107.67 386.6L1118.47 397.4M1107.67 397.4L1118.47 386.6" stroke="#7d5fa0" stroke-width="1.4" fill="none"/>
<path d="M1118.59 411.1L1129.39 421.9M1118.59 421.9L1129.39 411.1" stroke="#7d5fa0" stroke-width="1.4" fill="none"/>
<path d="M1129.51 429.4L1140.31 440.2M1129.51 440.2L1140.31 429.4" stroke="#7d5fa0" stroke-width="1.4" fill="none"/>
<path d="M1140.43 446.1L1151.23 456.9M1140.43 456.9L1151.23 446.1" stroke="#7d5fa0" stroke-width="1.4" fill="none"/>
<path d="M1151.35 456.5L1162.15 467.3M1151.35 467.3L1162.15 456.5" stroke="#7d5fa0" stroke-width="1.4" fill="none"/>
<path d="M1162.27 462.7L1173.07 473.5M1162.27 473.5L1173.07 462.7" stroke="#7d5fa0" stroke-width="1.4" fill="none"/>
<path d="M1173.19 458.6L1183.99 469.4M1173.19 469.4L1183.99 458.6" stroke="#7d5fa0" stroke-width="1.4" fill="none"/>
<path d="M1184.1 448.1L1194.9 458.9M1184.1 458.9L1194.9 448.1" stroke="#7d5fa0" stroke-width="1.4" fill="none"/>
<path d="M1195.02 438.8L1205.82 449.6M1195.02 449.6L1205.82 438.8" stroke="#7d5fa0" stroke-width="1.4" fill="none"/>
<path d="M1205.94 437.7L1216.74 448.5M1205.94 448.5L1216.74 437.7" stroke="#7d5fa0" stroke-width="1.4" fill="none"/>
<path d="M1216.86 396.6L1227.66 407.4M1216.86 407.4L1227.66 396.6" stroke="#7d5fa0" stroke-width="1.4" fill="none"/>
<path d="M1227.78 392.9L1238.58 403.7M1227.78 403.7L1238.58 392.9" stroke="#7d5fa0" stroke-width="1.4" fill="none"/>
<path d="M1238.7 367.9L1249.5 378.7M1238.7 378.7L1249.5 367.9" stroke="#7d5fa0" stroke-width="1.4" fill="none"/>
<path d="M1249.62 362.7L1260.42 373.5M1249.62 373.5L1260.42 362.7" stroke="#7d5fa0" stroke-width="1.4" fill="none"/>
<path d="M1260.54 342.9L1271.34 353.7M1260.54 353.7L1271.34 342.9" stroke="#7d5fa0" stroke-width="1.4" fill="none"/>
<path d="M1271.46 337.6L1282.26 348.4M1271.46 348.4L1282.26 337.6" stroke="#7d5fa0" stroke-width="1.4" fill="none"/>
<path d="M1282.38 333.8L1293.18 344.6M1282.38 344.6L1293.18 333.8" stroke="#7d5fa0" stroke-width="1.4" fill="none"/>
<path d="M1293.3 328.6L1304.1 339.4M1293.3 339.4L1304.1 328.6" stroke="#7d5fa0" stroke-width="1.4" fill="none"/>
<path d="M1304.22 320.2L1315.02 331M1304.22 331L1315.02 320.2" stroke="#7d5fa0" stroke-width="1.4" fill="none"/>
<path d="M1315.14 310.85L1325.94 321.65M1315.14 321.65L1325.94 310.85" stroke="#7d5fa0" stroke-width="1.4" fill="none"/>
<path d="M1326.06 310.85L1336.86 321.65M1326.06 321.65L1336.86 310.85" stroke="#7d5fa0" stroke-width="1.4" fill="none"/>
<path d="M1336.98 324.4L1347.78 335.2M1336.98 335.2L1347.78 324.4" stroke="#7d5fa0" stroke-width="1.4" fill="none"/>
<path d="M1347.9 331.6L1358.7 342.4M1347.9 342.4L1358.7 331.6" stroke="#7d5fa0" stroke-width="1.4" fill="none"/>
<path d="M1358.81 327.6L1369.61 338.4M1358.81 338.4L1369.61 327.6" stroke="#7d5fa0" stroke-width="1.4" fill="none"/>
<path d="M1369.73 342.1L1380.53 352.9M1369.73 352.9L1380.53 342.1" stroke="#7d5fa0" stroke-width="1.4" fill="none"/>
<path d="M1380.65 328.6L1391.45 339.4M1380.65 339.4L1391.45 328.6" stroke="#7d5fa0" stroke-width="1.4" fill="none"/>
<path d="M1391.57 330.6L1402.37 341.4M1391.57 341.4L1402.37 330.6" stroke="#7d5fa0" stroke-width="1.4" fill="none"/>
<path d="M1402.49 330.6L1413.29 341.4M1402.49 341.4L1413.29 330.6" stroke="#7d5fa0" stroke-width="1.4" fill="none"/>
<path d="M1413.41 327.6L1424.21 338.4M1413.41 338.4L1424.21 327.6" stroke="#7d5fa0" stroke-width="1.4" fill="none"/>
<path d="M1424.33 340L1435.13 350.8M1424.33 350.8L1435.13 340" stroke="#7d5fa0" stroke-width="1.4" fill="none"/>
<path d="M1435.25 324.4L1446.05 335.2M1435.25 335.2L1446.05 324.4" stroke="#7d5fa0" stroke-width="1.4" fill="none"/>
<path d="M1446.17 319.2L1456.97 330M1446.17 330L1456.97 319.2" stroke="#7d5fa0" stroke-width="1.4" fill="none"/>
<path d="M1457.09 312.9L1467.89 323.7M1457.09 323.7L1467.89 312.9" stroke="#7d5fa0" stroke-width="1.4" fill="none"/>
<path d="M1468.01 284.2L1478.81 295M1468.01 295L1478.81 284.2" stroke="#7d5fa0" stroke-width="1.4" fill="none"/>
<path d="M1478.93 279L1489.73 289.8M1478.93 289.8L1489.73 279" stroke="#7d5fa0" stroke-width="1.4" fill="none"/>
<path d="M1489.85 313.35L1500.65 324.15M1489.85 324.15L1500.65 313.35" stroke="#7d5fa0" stroke-width="1.4" fill="none"/>
<path d="M1500.77 286.3L1511.57 297.1M1500.77 297.1L1511.57 286.3" stroke="#7d5fa0" stroke-width="1.4" fill="none"/>
<path d="M1511.69 297.7L1522.49 308.5M1511.69 308.5L1522.49 297.7" stroke="#7d5fa0" stroke-width="1.4" fill="none"/>
<path d="M1522.6 307.1L1533.4 317.9M1522.6 317.9L1533.4 307.1" stroke="#7d5fa0" stroke-width="1.4" fill="none"/>
<path d="M1533.52 311.3L1544.32 322.1M1533.52 322.1L1544.32 311.3" stroke="#7d5fa0" stroke-width="1.4" fill="none"/>
<path d="M1544.44 313.1L1555.24 323.9M1544.44 323.9L1555.24 313.1" stroke="#7d5fa0" stroke-width="1.4" fill="none"/>
<path d="M1555.36 298.8L1566.16 309.6M1555.36 309.6L1566.16 298.8" stroke="#7d5fa0" stroke-width="1.4" fill="none"/>
<path d="M1566.28 308.4L1577.08 319.2M1566.28 319.2L1577.08 308.4" stroke="#7d5fa0" stroke-width="1.4" fill="none"/>
<path d="M1577.2 318.1L1588 328.9M1577.2 328.9L1588 318.1" stroke="#7d5fa0" stroke-width="1.4" fill="none"/>
<path d="M1588.12 313.1L1598.92 323.9M1588.12 323.9L1598.92 313.1" stroke="#7d5fa0" stroke-width="1.4" fill="none"/>
<path d="M1599.04 315.8L1609.84 326.6M1599.04 326.6L1609.84 315.8" stroke="#7d5fa0" stroke-width="1.4" fill="none"/>
</g>
<g clip-path="url(#c2)">
<polyline points="927.44,425 938.36,484.8 949.28,478.5 960.2,467.1 971.12,475.4 982.04,457.7 992.96,452.5 1003.88,449.4 1014.8,452.5 1025.71,473.3 1036.63,467.1 1047.55,454.6 1058.47,441 1069.39,405.6 1080.31,442.1 1091.23,439 1102.15,417.1 1113.07,423.3 1123.99,419.2 1134.91,428.5 1145.83,420.2 1156.75,381.7 1167.67,366 1178.59,361.9 1189.5,331.7 1200.42,296 1211.34,267.5 1222.26,293.8 1233.18,308 1244.1,334.8 1255.02,351.5 1265.94,341 1276.86,325.3 1287.78,300 1298.7,327.3 1309.62,306.25 1320.54,321.6 1331.46,330.5 1342.38,317 1353.3,321.2 1364.21,317.5 1375.13,295.8 1386.05,289.6 1396.97,283.3 1407.89,299 1418.81,336 1429.73,313.4 1440.65,347.5 1451.57,366.25 1462.49,393.3 1473.41,393.3 1484.33,366.25 1495.25,353.75 1506.17,366.25 1517.09,383 1528,375.6 1538.92,388.1 1549.84,390.2 1560.76,392.3 1571.68,373.5 1582.6,346.5 1593.52,331 1604.44,348.5" fill="none" stroke="#98b954" stroke-width="5" stroke-linejoin="round" stroke-linecap="round"/>
<path d="M938.36 478.8L944.36 489.3L932.36 489.3Z" fill="#98b954"/>
<path d="M949.28 472.5L955.28 483L943.28 483Z" fill="#98b954"/>
<path d="M960.2 461.1L966.2 471.6L954.2 471.6Z" fill="#98b954"/>
<path d="M971.12 469.4L977.12 479.9L965.12 479.9Z" fill="#98b954"/>
<path d="M982.04 451.7L988.04 462.2L976.04 462.2Z" fill="#98b954"/>
<path d="M992.96 446.5L998.96 457L986.96 457Z" fill="#98b954"/>
<path d="M1003.88 443.4L1009.88 453.9L997.88 453.9Z" fill="#98b954"/>
<path d="M1014.8 446.5L1020.8 457L1008.8 457Z" fill="#98b954"/>
<path d="M1025.71 467.3L1031.71 477.8L1019.71 477.8Z" fill="#98b954"/>
<path d="M1036.63 461.1L1042.63 471.6L1030.63 471.6Z" fill="#98b954"/>
<path d="M1047.55 448.6L1053.55 459.1L1041.55 459.1Z" fill="#98b954"/>
<path d="M1058.47 435L1064.47 445.5L1052.47 445.5Z" fill="#98b954"/>
<path d="M1069.39 399.6L1075.39 410.1L1063.39 410.1Z" fill="#98b954"/>
<path d="M1080.31 436.1L1086.31 446.6L1074.31 446.6Z" fill="#98b954"/>
<path d="M1091.23 433L1097.23 443.5L1085.23 443.5Z" fill="#98b954"/>
<path d="M1102.15 411.1L1108.15 421.6L1096.15 421.6Z" fill="#98b954"/>
<path d="M1113.07 417.3L1119.07 427.8L1107.07 427.8Z" fill="#98b954"/>
<path d="M1123.99 413.2L1129.99 423.7L1117.99 423.7Z" fill="#98b954"/>
<path d="M1134.91 422.5L1140.91 433L1128.91 433Z" fill="#98b954"/>
<path d="M1145.83 414.2L1151.83 424.7L1139.83 424.7Z" fill="#98b954"/>
<path d="M1156.75 375.7L1162.75 386.2L1150.75 386.2Z" fill="#98b954"/>
<path d="M1167.67 360L1173.67 370.5L1161.67 370.5Z" fill="#98b954"/>
<path d="M1178.59 355.9L1184.59 366.4L1172.59 366.4Z" fill="#98b954"/>
<path d="M1189.5 325.7L1195.5 336.2L1183.5 336.2Z" fill="#98b954"/>
<path d="M1200.42 290L1206.42 300.5L1194.42 300.5Z" fill="#98b954"/>
<path d="M1211.34 261.5L1217.34 272L1205.34 272Z" fill="#98b954"/>
<path d="M1222.26 287.8L1228.26 298.3L1216.26 298.3Z" fill="#98b954"/>
<path d="M1233.18 302L1239.18 312.5L1227.18 312.5Z" fill="#98b954"/>
<path d="M1244.1 328.8L1250.1 339.3L1238.1 339.3Z" fill="#98b954"/>
<path d="M1255.02 345.5L1261.02 356L1249.02 356Z" fill="#98b954"/>
<path d="M1265.94 335L1271.94 345.5L1259.94 345.5Z" fill="#98b954"/>
<path d="M1276.86 319.3L1282.86 329.8L1270.86 329.8Z" fill="#98b954"/>
<path d="M1287.78 294L1293.78 304.5L1281.78 304.5Z" fill="#98b954"/>
<path d="M1298.7 321.3L1304.7 331.8L1292.7 331.8Z" fill="#98b954"/>
<path d="M1309.62 300.25L1315.62 310.75L1303.62 310.75Z" fill="#98b954"/>
<path d="M1320.54 315.6L1326.54 326.1L1314.54 326.1Z" fill="#98b954"/>
<path d="M1331.46 324.5L1337.46 335L1325.46 335Z" fill="#98b954"/>
<path d="M1342.38 311L1348.38 321.5L1336.38 321.5Z" fill="#98b954"/>
<path d="M1353.3 315.2L1359.3 325.7L1347.3 325.7Z" fill="#98b954"/>
<path d="M1364.21 311.5L1370.21 322L1358.21 322Z" fill="#98b954"/>
<path d="M1375.13 289.8L1381.13 300.3L1369.13 300.3Z" fill="#98b954"/>
<path d="M1386.05 283.6L1392.05 294.1L1380.05 294.1Z" fill="#98b954"/>
<path d="M1396.97 277.3L1402.97 287.8L1390.97 287.8Z" fill="#98b954"/>
<path d="M1407.89 293L1413.89 303.5L1401.89 303.5Z" fill="#98b954"/>
<path d="M1418.81 330L1424.81 340.5L1412.81 340.5Z" fill="#98b954"/>
<path d="M1429.73 307.4L1435.73 317.9L1423.73 317.9Z" fill="#98b954"/>
<path d="M1440.65 341.5L1446.65 352L1434.65 352Z" fill="#98b954"/>
<path d="M1451.57 360.25L1457.57 370.75L1445.57 370.75Z" fill="#98b954"/>
<path d="M1462.49 387.3L1468.49 397.8L1456.49 397.8Z" fill="#98b954"/>
<path d="M1473.41 387.3L1479.41 397.8L1467.41 397.8Z" fill="#98b954"/>
<path d="M1484.33 360.25L1490.33 370.75L1478.33 370.75Z" fill="#98b954"/>
<path d="M1495.25 347.75L1501.25 358.25L1489.25 358.25Z" fill="#98b954"/>
<path d="M1506.17 360.25L1512.17 370.75L1500.17 370.75Z" fill="#98b954"/>
<path d="M1517.09 377L1523.09 387.5L1511.09 387.5Z" fill="#98b954"/>
<path d="M1528 369.6L1534 380.1L1522 380.1Z" fill="#98b954"/>
<path d="M1538.92 382.1L1544.92 392.6L1532.92 392.6Z" fill="#98b954"/>
<path d="M1549.84 384.2L1555.84 394.7L1543.84 394.7Z" fill="#98b954"/>
<path d="M1560.76 386.3L1566.76 396.8L1554.76 396.8Z" fill="#98b954"/>
<path d="M1571.68 367.5L1577.68 378L1565.68 378Z" fill="#98b954"/>
<path d="M1582.6 340.5L1588.6 351L1576.6 351Z" fill="#98b954"/>
<path d="M1593.52 325L1599.52 335.5L1587.52 335.5Z" fill="#98b954"/>
<path d="M1604.44 342.5L1610.44 353L1598.44 353Z" fill="#98b954"/>
</g>
<rect x="955" y="152" width="635" height="36" fill="#fff"/>
<line x1="966" y1="167.5" x2="1000" y2="167.5" stroke="#4a7ebb" stroke-width="5.2" stroke-linecap="butt"/>
<path d="M983 162.2L988.3 167.5L983 172.8L977.7 167.5Z" fill="#4a7ebb"/>
<text x="1004" y="174.3" font-size="17.5" text-anchor="start" font-family="'Liberation Sans', 'Noto Sans CJK JP', sans-serif" font-weight="500" fill="#000" textLength="77" lengthAdjust="spacingAndGlyphs">総合指数</text>
<line x1="1112" y1="167.5" x2="1146" y2="167.5" stroke="#be4b48" stroke-width="5.2" stroke-linecap="butt"/>
<rect x="1124.4" y="162.9" width="9.2" height="9.2" fill="#be4b48"/>
<text x="1149" y="174.3" font-size="17.5" text-anchor="start" font-family="'Liberation Sans', 'Noto Sans CJK JP', sans-serif" font-weight="500" fill="#000" textLength="72" lengthAdjust="spacingAndGlyphs">コア指数</text>
<line x1="1251" y1="167.5" x2="1285" y2="167.5" stroke="#7d5fa0" stroke-width="5.2" stroke-linecap="butt"/>
<path d="M1262.6 162.1L1273.4 172.9M1262.6 172.9L1273.4 162.1" stroke="#7d5fa0" stroke-width="1.4" fill="none"/>
<text x="1289.3" y="174.3" font-size="17.5" text-anchor="start" font-family="'Liberation Sans', 'Noto Sans CJK JP', sans-serif" font-weight="500" fill="#000" textLength="56" lengthAdjust="spacingAndGlyphs">食料品</text>
<line x1="1376" y1="167.5" x2="1409.5" y2="167.5" stroke="#98b954" stroke-width="5.2" stroke-linecap="butt"/>
<path d="M1392.75 161.5L1398.75 172L1386.75 172Z" fill="#98b954"/>
<text x="1413" y="174.3" font-size="17.5" text-anchor="start" font-family="'Liberation Sans', 'Noto Sans CJK JP', sans-serif" font-weight="500" fill="#000" textLength="62" lengthAdjust="spacingAndGlyphs">ｴﾈﾙｷﾞ</text>
<text x="1467.8" y="174.3" font-size="17.5" text-anchor="start" font-family="'Liberation Sans', 'Noto Sans CJK JP', sans-serif" font-weight="500" fill="#000" textLength="14.4" lengthAdjust="spacingAndGlyphs">ｰ</text>
<text x="1481.5" y="174.3" font-size="17.5" text-anchor="start" font-family="'Liberation Sans', 'Noto Sans CJK JP', sans-serif" font-weight="500" fill="#000" textLength="40.3" lengthAdjust="spacingAndGlyphs">関連</text>
<text x="1522.3" y="174.3" font-size="17.5" text-anchor="start" font-family="'Liberation Sans', 'Noto Sans CJK JP', sans-serif" font-weight="500" fill="#000" textLength="59.3" lengthAdjust="spacingAndGlyphs" style="font-feature-settings:'palt'">（右軸）</text>
<text x="1127.9" y="124.9" font-size="28" text-anchor="start" font-family="'Liberation Sans', 'Noto Sans CJK JP', sans-serif" font-weight="bold" fill="#000" textLength="46.5" lengthAdjust="spacingAndGlyphs" stroke="#000" stroke-width="0.6">PCE</text>
<text x="1188.75" y="125" font-size="28" text-anchor="middle" font-family="'Noto Sans CJK JP', sans-serif" font-weight="bold" fill="#000">価</text>
<text x="1220.2" y="125" font-size="28" text-anchor="middle" font-family="'Noto Sans CJK JP', sans-serif" font-weight="bold" fill="#000">格</text>
<text x="1251.8" y="125" font-size="28" text-anchor="middle" font-family="'Noto Sans CJK JP', sans-serif" font-weight="bold" fill="#000">指</text>
<text x="1282.6" y="125" font-size="28" text-anchor="middle" font-family="'Noto Sans CJK JP', sans-serif" font-weight="bold" fill="#000">数</text>
<text x="1307.8" y="122.3" font-size="27" text-anchor="middle" font-family="'Liberation Sans', 'Noto Sans CJK JP', sans-serif" font-weight="normal" fill="#000">(</text>
<text x="1329.4" y="125" font-size="28" text-anchor="middle" font-family="'Noto Sans CJK JP', sans-serif" font-weight="bold" fill="#000">前</text>
<text x="1358.75" y="125" font-size="28" text-anchor="middle" font-family="'Noto Sans CJK JP', sans-serif" font-weight="bold" fill="#000">年</text>
<text x="1389.7" y="125" font-size="28" text-anchor="middle" font-family="'Noto Sans CJK JP', sans-serif" font-weight="bold" fill="#000">同</text>
<text x="1421.75" y="125" font-size="28" text-anchor="middle" font-family="'Noto Sans CJK JP', sans-serif" font-weight="bold" fill="#000">月</text>
<text x="1453.75" y="125" font-size="28" text-anchor="middle" font-family="'Noto Sans CJK JP', sans-serif" font-weight="bold" fill="#000">比</text>
<text x="1472.6" y="122.3" font-size="27" text-anchor="middle" font-family="'Liberation Sans', 'Noto Sans CJK JP', sans-serif" font-weight="normal" fill="#000">)</text>
<text x="947.1" y="127.6" font-size="17.5" text-anchor="start" font-family="'Liberation Sans', 'Noto Sans CJK JP', sans-serif" font-weight="normal" fill="#000">(</text>
<text x="955.3" y="129.6" font-size="18.2" text-anchor="start" font-family="'Liberation Sans', 'Noto Sans CJK JP', sans-serif" font-weight="bold" fill="#000" textLength="17.6" lengthAdjust="spacingAndGlyphs">%</text>
<text x="975.5" y="127.6" font-size="17.5" text-anchor="start" font-family="'Liberation Sans', 'Noto Sans CJK JP', sans-serif" font-weight="normal" fill="#000">)</text>
<text x="1579.2" y="127.6" font-size="17.5" text-anchor="start" font-family="'Liberation Sans', 'Noto Sans CJK JP', sans-serif" font-weight="normal" fill="#000">(</text>
<text x="1587.4" y="129.6" font-size="18.2" text-anchor="start" font-family="'Liberation Sans', 'Noto Sans CJK JP', sans-serif" font-weight="bold" fill="#000" textLength="17.6" lengthAdjust="spacingAndGlyphs">%</text>
<text x="1607.6" y="127.6" font-size="17.5" text-anchor="start" font-family="'Liberation Sans', 'Noto Sans CJK JP', sans-serif" font-weight="normal" fill="#000">)</text>
<text x="60.5" y="595" font-size="19.5" text-anchor="start" font-family="'Liberation Sans', 'Noto Sans CJK JP', sans-serif" font-weight="500" fill="#000" textLength="139" lengthAdjust="spacingAndGlyphs" style="font-feature-settings:'palt'">（注）季節調整済</text>
<text x="60.5" y="620" font-size="19.5" text-anchor="start" font-family="'Liberation Sans', 'Noto Sans CJK JP', sans-serif" font-weight="500" fill="#000" textLength="330" lengthAdjust="spacingAndGlyphs" style="font-feature-settings:'palt'">（資料）BEAよりニッセイ基礎研究所作成</text>
<text x="896.3" y="597.5" font-size="19.5" text-anchor="start" font-family="'Liberation Sans', 'Noto Sans CJK JP', sans-serif" font-weight="500" fill="#000" textLength="141.22" lengthAdjust="spacingAndGlyphs" style="font-feature-settings:'palt'">（注）季節調整済</text>
<text x="896.3" y="622.5" font-size="19.5" text-anchor="start" font-family="'Liberation Sans', 'Noto Sans CJK JP', sans-serif" font-weight="500" fill="#000" textLength="335.28" lengthAdjust="spacingAndGlyphs" style="font-feature-settings:'palt'">（資料）BEAよりニッセイ基礎研究所作成</text>
</svg>
</body></html>
